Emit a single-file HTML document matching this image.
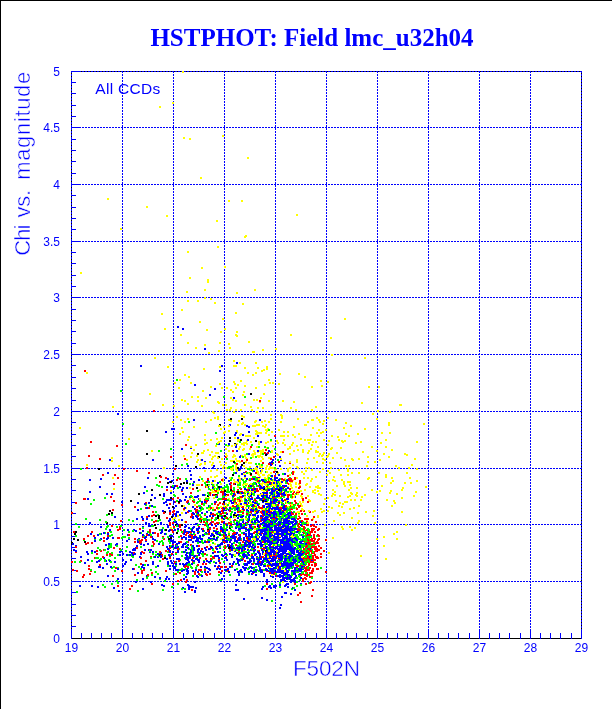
<!DOCTYPE html>
<html><head><meta charset="utf-8"><title>HSTPHOT: Field lmc_u32h04</title>
<style>html,body{margin:0;padding:0;background:#fff;}body{width:612px;height:709px;overflow:hidden;}svg{display:block;}</style>
</head><body><svg width="612" height="709" viewBox="0 0 612 709" shape-rendering="crispEdges"><rect x="0" y="0" width="612" height="1" fill="#000"/><rect x="0" y="0" width="1" height="709" fill="#000"/><rect x="71" y="71" width="511" height="1" fill="#000"/><rect x="71" y="638" width="511" height="1" fill="#000"/><rect x="71" y="71" width="1" height="568" fill="#000"/><rect x="581" y="71" width="1" height="568" fill="#000"/><path d="M71.5 71V638M122.5 71V638M173.5 71V638M224.5 71V638M275.5 71V638M326.5 71V638M377.5 71V638M428.5 71V638M479.5 71V638M530.5 71V638M581.5 71V638" stroke="#0000ff" stroke-width="1" stroke-dasharray="2 1" fill="none"/><path d="M71 581.5H582M71 524.5H582M71 468.5H582M71 411.5H582M71 354.5H582M71 297.5H582M71 241.5H582M71 184.5H582M71 127.5H582M71 71.5H582" stroke="#0000ff" stroke-width="1" stroke-dasharray="2 1" stroke-dashoffset="1" fill="none"/><path d="M71.5 639v-10M81.5 639v-6M91.5 639v-6M101.5 639v-6M111.5 639v-6M122.5 639v-10M132.5 639v-6M142.5 639v-6M152.5 639v-6M162.5 639v-6M173.5 639v-10M183.5 639v-6M193.5 639v-6M203.5 639v-6M214.5 639v-6M224.5 639v-10M234.5 639v-6M244.5 639v-6M254.5 639v-6M265.5 639v-6M275.5 639v-10M285.5 639v-6M295.5 639v-6M305.5 639v-6M316.5 639v-6M326.5 639v-10M336.5 639v-6M346.5 639v-6M356.5 639v-6M367.5 639v-6M377.5 639v-10M387.5 639v-6M397.5 639v-6M407.5 639v-6M418.5 639v-6M428.5 639v-10M438.5 639v-6M448.5 639v-6M458.5 639v-6M469.5 639v-6M479.5 639v-10M489.5 639v-6M499.5 639v-6M509.5 639v-6M520.5 639v-6M530.5 639v-10M540.5 639v-6M550.5 639v-6M560.5 639v-6M571.5 639v-6M581.5 639v-10M71 626.5h5M71 615.5h5M71 604.5h5M71 592.5h5M71 581.5h10M71 570.5h5M71 558.5h5M71 547.5h5M71 536.5h5M71 524.5h10M71 513.5h5M71 502.5h5M71 490.5h5M71 479.5h5M71 468.5h10M71 456.5h5M71 445.5h5M71 434.5h5M71 422.5h5M71 411.5h10M71 400.5h5M71 388.5h5M71 377.5h5M71 365.5h5M71 354.5h10M71 343.5h5M71 331.5h5M71 320.5h5M71 309.5h5M71 297.5h10M71 286.5h5M71 275.5h5M71 263.5h5M71 252.5h5M71 241.5h10M71 229.5h5M71 218.5h5M71 207.5h5M71 195.5h5M71 184.5h10M71 173.5h5M71 161.5h5M71 150.5h5M71 139.5h5M71 127.5h10M71 116.5h5M71 105.5h5M71 93.5h5M71 82.5h5M71 71.5h10" stroke="#0000ff" stroke-width="1" fill="none"/><path fill="#ffff00" d="M394 502h2v2h-2zM233 454h2v2h-2zM267 428h2v2h-2zM406 454h2v2h-2zM239 524h2v2h-2zM252 469h2v2h-2zM255 387h2v2h-2zM323 420h2v2h-2zM318 435h2v2h-2zM317 487h2v2h-2zM378 472h2v2h-2zM262 349h2v2h-2zM277 481h2v2h-2zM288 561h2v2h-2zM401 497h2v2h-2zM342 528h2v2h-2zM230 468h2v2h-2zM245 435h2v2h-2zM344 318h2v2h-2zM333 520h2v2h-2zM196 461h2v2h-2zM276 495h2v2h-2zM241 415h2v2h-2zM316 417h2v2h-2zM217 416h2v2h-2zM225 404h2v2h-2zM301 496h2v2h-2zM245 442h2v2h-2zM320 432h2v2h-2zM300 545h2v2h-2zM293 450h2v2h-2zM268 544h2v2h-2zM242 422h2v2h-2zM227 491h2v2h-2zM275 468h2v2h-2zM176 416h2v2h-2zM318 455h2v2h-2zM272 488h2v2h-2zM317 490h2v2h-2zM107 198h2v2h-2zM272 532h2v2h-2zM282 555h2v2h-2zM237 469h2v2h-2zM235 312h2v2h-2zM250 502h2v2h-2zM320 380h2v2h-2zM313 457h2v2h-2zM254 501h2v2h-2zM280 481h2v2h-2zM314 489h2v2h-2zM184 521h2v2h-2zM214 417h2v2h-2zM298 483h2v2h-2zM344 459h2v2h-2zM240 498h2v2h-2zM217 416h2v2h-2zM184 374h2v2h-2zM372 515h2v2h-2zM228 450h2v2h-2zM86 372h2v2h-2zM242 518h2v2h-2zM302 546h2v2h-2zM183 509h2v2h-2zM204 289h2v2h-2zM259 476h2v2h-2zM307 439h2v2h-2zM306 520h2v2h-2zM248 494h2v2h-2zM306 462h2v2h-2zM341 440h2v2h-2zM217 512h2v2h-2zM349 508h2v2h-2zM223 432h2v2h-2zM259 465h2v2h-2zM212 532h2v2h-2zM227 445h2v2h-2zM236 498h2v2h-2zM295 512h2v2h-2zM385 446h2v2h-2zM328 480h2v2h-2zM310 434h2v2h-2zM318 429h2v2h-2zM263 393h2v2h-2zM347 496h2v2h-2zM388 424h2v2h-2zM254 425h2v2h-2zM245 435h2v2h-2zM256 467h2v2h-2zM280 451h2v2h-2zM217 508h2v2h-2zM228 343h2v2h-2zM385 474h2v2h-2zM338 469h2v2h-2zM282 435h2v2h-2zM258 424h2v2h-2zM273 571h2v2h-2zM281 515h2v2h-2zM235 400h2v2h-2zM269 382h2v2h-2zM339 495h2v2h-2zM338 505h2v2h-2zM274 490h2v2h-2zM409 477h2v2h-2zM247 157h2v2h-2zM273 549h2v2h-2zM244 454h2v2h-2zM266 501h2v2h-2zM225 499h2v2h-2zM199 464h2v2h-2zM239 446h2v2h-2zM257 451h2v2h-2zM236 504h2v2h-2zM267 508h2v2h-2zM213 497h2v2h-2zM236 292h2v2h-2zM242 524h2v2h-2zM248 479h2v2h-2zM231 445h2v2h-2zM266 368h2v2h-2zM303 477h2v2h-2zM311 386h2v2h-2zM239 434h2v2h-2zM326 474h2v2h-2zM240 493h2v2h-2zM206 329h2v2h-2zM256 424h2v2h-2zM253 399h2v2h-2zM231 469h2v2h-2zM257 527h2v2h-2zM225 489h2v2h-2zM285 559h2v2h-2zM295 486h2v2h-2zM237 440h2v2h-2zM265 424h2v2h-2zM224 494h2v2h-2zM263 574h2v2h-2zM244 493h2v2h-2zM208 497h2v2h-2z"/><path fill="#ff0000" d="M305 545h2v2h-2zM245 471h2v2h-2zM290 511h2v2h-2zM243 486h2v2h-2zM313 525h2v2h-2zM274 435h2v2h-2zM320 547h2v2h-2zM261 512h2v2h-2zM303 531h2v2h-2zM278 526h2v2h-2zM298 530h2v2h-2zM129 588h2v2h-2zM269 532h2v2h-2zM218 557h2v2h-2zM209 548h2v2h-2zM316 557h2v2h-2zM286 491h2v2h-2zM232 450h2v2h-2zM251 497h2v2h-2zM303 565h2v2h-2zM310 561h2v2h-2zM221 516h2v2h-2zM210 555h2v2h-2zM262 480h2v2h-2zM313 534h2v2h-2zM230 523h2v2h-2zM196 555h2v2h-2zM312 559h2v2h-2zM308 563h2v2h-2zM305 536h2v2h-2zM267 526h2v2h-2zM301 558h2v2h-2zM277 487h2v2h-2zM236 558h2v2h-2zM248 551h2v2h-2zM202 528h2v2h-2zM287 475h2v2h-2zM312 589h2v2h-2zM318 528h2v2h-2zM218 571h2v2h-2zM222 512h2v2h-2zM252 556h2v2h-2zM224 529h2v2h-2zM197 571h2v2h-2zM252 488h2v2h-2zM276 575h2v2h-2zM136 470h2v2h-2zM281 486h2v2h-2zM88 568h2v2h-2zM275 552h2v2h-2zM292 493h2v2h-2zM216 522h2v2h-2zM180 541h2v2h-2zM134 541h2v2h-2zM221 507h2v2h-2zM271 529h2v2h-2zM194 534h2v2h-2zM310 547h2v2h-2zM293 540h2v2h-2zM299 521h2v2h-2zM277 534h2v2h-2zM142 519h2v2h-2zM316 556h2v2h-2zM309 531h2v2h-2zM115 567h2v2h-2zM263 557h2v2h-2zM264 452h2v2h-2zM205 486h2v2h-2zM266 570h2v2h-2zM290 505h2v2h-2zM252 484h2v2h-2zM257 563h2v2h-2zM133 568h2v2h-2zM303 548h2v2h-2zM312 545h2v2h-2zM302 573h2v2h-2zM309 560h2v2h-2zM113 483h2v2h-2zM237 504h2v2h-2zM279 524h2v2h-2zM94 557h2v2h-2zM222 555h2v2h-2zM304 564h2v2h-2zM243 533h2v2h-2zM151 572h2v2h-2zM296 528h2v2h-2zM307 561h2v2h-2zM298 487h2v2h-2zM287 491h2v2h-2zM282 451h2v2h-2zM292 538h2v2h-2zM221 517h2v2h-2z"/><path fill="#00ff00" d="M272 495h2v2h-2zM302 550h2v2h-2zM132 556h2v2h-2zM290 553h2v2h-2zM241 532h2v2h-2zM302 544h2v2h-2zM286 539h2v2h-2zM275 541h2v2h-2zM267 525h2v2h-2zM246 514h2v2h-2zM265 535h2v2h-2zM198 510h2v2h-2zM233 502h2v2h-2zM262 453h2v2h-2zM299 521h2v2h-2zM298 532h2v2h-2zM128 531h2v2h-2zM288 578h2v2h-2zM295 493h2v2h-2zM149 532h2v2h-2zM232 492h2v2h-2zM188 562h2v2h-2zM252 470h2v2h-2zM164 555h2v2h-2zM202 553h2v2h-2zM177 477h2v2h-2zM299 560h2v2h-2zM291 588h2v2h-2zM285 516h2v2h-2zM273 514h2v2h-2zM149 505h2v2h-2zM207 486h2v2h-2zM265 498h2v2h-2zM138 566h2v2h-2zM283 515h2v2h-2zM208 506h2v2h-2zM135 564h2v2h-2zM268 554h2v2h-2zM263 560h2v2h-2zM266 560h2v2h-2zM187 556h2v2h-2zM288 559h2v2h-2zM304 527h2v2h-2zM236 549h2v2h-2zM283 518h2v2h-2zM189 564h2v2h-2zM281 516h2v2h-2zM235 526h2v2h-2zM263 549h2v2h-2zM268 508h2v2h-2zM196 556h2v2h-2zM313 541h2v2h-2zM304 557h2v2h-2zM158 450h2v2h-2zM310 557h2v2h-2zM109 535h2v2h-2zM279 586h2v2h-2zM299 565h2v2h-2zM300 563h2v2h-2zM308 582h2v2h-2zM212 548h2v2h-2zM296 545h2v2h-2zM225 516h2v2h-2zM122 536h2v2h-2zM253 562h2v2h-2zM258 570h2v2h-2zM280 548h2v2h-2zM307 566h2v2h-2zM304 553h2v2h-2zM260 530h2v2h-2zM307 560h2v2h-2zM233 547h2v2h-2zM303 535h2v2h-2zM177 487h2v2h-2zM102 584h2v2h-2zM241 524h2v2h-2zM304 551h2v2h-2zM244 486h2v2h-2zM192 575h2v2h-2zM171 586h2v2h-2zM158 485h2v2h-2zM282 517h2v2h-2zM239 560h2v2h-2zM304 531h2v2h-2zM247 519h2v2h-2zM298 553h2v2h-2zM225 486h2v2h-2zM173 494h2v2h-2zM192 483h2v2h-2zM227 467h2v2h-2zM299 543h2v2h-2zM292 526h2v2h-2zM277 459h2v2h-2zM307 545h2v2h-2zM264 523h2v2h-2zM259 483h2v2h-2zM212 509h2v2h-2zM296 558h2v2h-2zM301 555h2v2h-2zM254 476h2v2h-2zM251 502h2v2h-2zM285 528h2v2h-2zM184 588h2v2h-2zM297 544h2v2h-2zM304 562h2v2h-2zM296 569h2v2h-2zM114 557h2v2h-2zM264 585h2v2h-2zM283 550h2v2h-2zM306 543h2v2h-2zM297 571h2v2h-2zM215 432h2v2h-2zM289 513h2v2h-2zM267 564h2v2h-2zM296 534h2v2h-2zM104 559h2v2h-2zM293 559h2v2h-2zM302 523h2v2h-2zM247 513h2v2h-2zM191 567h2v2h-2zM146 577h2v2h-2zM236 526h2v2h-2zM305 552h2v2h-2zM294 539h2v2h-2zM293 549h2v2h-2zM299 520h2v2h-2zM106 526h2v2h-2zM173 547h2v2h-2zM244 545h2v2h-2zM213 537h2v2h-2zM218 574h2v2h-2zM260 547h2v2h-2zM109 555h2v2h-2zM209 508h2v2h-2zM228 466h2v2h-2z"/><path fill="#0000ff" d="M291 532h2v2h-2zM138 538h2v2h-2zM295 540h2v2h-2zM196 496h2v2h-2zM219 534h2v2h-2zM201 528h2v2h-2zM270 505h2v2h-2zM295 521h2v2h-2zM188 561h2v2h-2zM275 500h2v2h-2zM283 529h2v2h-2zM198 548h2v2h-2zM265 529h2v2h-2zM264 565h2v2h-2zM280 501h2v2h-2zM203 530h2v2h-2zM265 569h2v2h-2zM263 530h2v2h-2zM227 568h2v2h-2zM282 542h2v2h-2zM173 507h2v2h-2zM292 529h2v2h-2zM253 470h2v2h-2zM170 492h2v2h-2zM251 563h2v2h-2zM283 565h2v2h-2zM235 472h2v2h-2zM284 531h2v2h-2zM265 539h2v2h-2zM254 549h2v2h-2zM277 535h2v2h-2zM288 561h2v2h-2zM189 535h2v2h-2zM264 508h2v2h-2zM292 570h2v2h-2zM207 519h2v2h-2zM256 556h2v2h-2zM293 553h2v2h-2zM223 530h2v2h-2zM268 474h2v2h-2zM274 559h2v2h-2zM245 544h2v2h-2zM280 530h2v2h-2zM247 541h2v2h-2zM157 553h2v2h-2zM184 564h2v2h-2zM263 493h2v2h-2zM116 543h2v2h-2zM269 571h2v2h-2zM269 496h2v2h-2zM169 529h2v2h-2zM275 567h2v2h-2zM267 524h2v2h-2zM272 530h2v2h-2zM277 565h2v2h-2zM233 502h2v2h-2zM292 540h2v2h-2zM270 502h2v2h-2zM249 561h2v2h-2zM244 488h2v2h-2zM222 518h2v2h-2zM290 545h2v2h-2zM159 529h2v2h-2zM151 536h2v2h-2zM272 459h2v2h-2zM246 537h2v2h-2zM175 569h2v2h-2zM196 523h2v2h-2zM285 569h2v2h-2zM245 535h2v2h-2zM291 534h2v2h-2zM291 545h2v2h-2zM248 536h2v2h-2zM280 533h2v2h-2zM271 531h2v2h-2zM267 557h2v2h-2zM274 521h2v2h-2zM276 538h2v2h-2zM197 528h2v2h-2zM236 508h2v2h-2zM274 554h2v2h-2zM256 533h2v2h-2zM277 567h2v2h-2zM282 581h2v2h-2zM272 549h2v2h-2zM274 479h2v2h-2zM266 537h2v2h-2zM268 513h2v2h-2zM263 575h2v2h-2zM115 544h2v2h-2zM274 586h2v2h-2zM297 530h2v2h-2zM289 547h2v2h-2zM270 521h2v2h-2zM146 575h2v2h-2zM191 554h2v2h-2zM231 537h2v2h-2zM296 551h2v2h-2zM287 479h2v2h-2zM170 538h2v2h-2zM284 513h2v2h-2zM273 536h2v2h-2zM265 539h2v2h-2zM281 492h2v2h-2zM286 573h2v2h-2zM190 474h2v2h-2zM285 539h2v2h-2zM284 528h2v2h-2zM285 528h2v2h-2zM294 547h2v2h-2zM251 547h2v2h-2zM285 485h2v2h-2zM253 546h2v2h-2zM200 570h2v2h-2zM275 519h2v2h-2zM285 538h2v2h-2zM296 565h2v2h-2zM280 544h2v2h-2zM206 560h2v2h-2zM150 581h2v2h-2zM285 506h2v2h-2zM264 538h2v2h-2zM238 537h2v2h-2zM269 556h2v2h-2zM292 558h2v2h-2zM293 549h2v2h-2zM253 540h2v2h-2zM242 525h2v2h-2zM280 511h2v2h-2zM198 559h2v2h-2zM275 491h2v2h-2zM283 573h2v2h-2zM224 531h2v2h-2zM238 481h2v2h-2zM184 526h2v2h-2zM262 499h2v2h-2zM271 549h2v2h-2zM265 516h2v2h-2zM279 569h2v2h-2zM278 530h2v2h-2zM141 516h2v2h-2zM177 525h2v2h-2zM282 545h2v2h-2zM280 509h2v2h-2zM277 560h2v2h-2zM295 543h2v2h-2zM292 529h2v2h-2zM181 546h2v2h-2zM266 561h2v2h-2zM282 527h2v2h-2zM262 551h2v2h-2zM190 539h2v2h-2zM168 578h2v2h-2zM291 567h2v2h-2zM192 586h2v2h-2zM214 555h2v2h-2zM271 542h2v2h-2zM247 552h2v2h-2zM287 544h2v2h-2zM190 447h2v2h-2zM222 531h2v2h-2zM266 579h2v2h-2zM288 569h2v2h-2zM294 519h2v2h-2zM137 539h2v2h-2zM283 492h2v2h-2zM282 528h2v2h-2zM168 507h2v2h-2zM276 504h2v2h-2zM242 527h2v2h-2zM157 565h2v2h-2zM237 510h2v2h-2zM277 500h2v2h-2zM300 565h2v2h-2zM267 534h2v2h-2zM223 507h2v2h-2zM277 516h2v2h-2zM266 546h2v2h-2zM267 536h2v2h-2zM293 540h2v2h-2zM237 546h2v2h-2zM263 517h2v2h-2zM302 543h2v2h-2zM181 570h2v2h-2zM250 541h2v2h-2zM237 437h2v2h-2zM249 537h2v2h-2zM288 564h2v2h-2zM263 519h2v2h-2zM255 534h2v2h-2zM275 519h2v2h-2zM267 503h2v2h-2zM273 585h2v2h-2zM251 505h2v2h-2zM173 521h2v2h-2zM284 559h2v2h-2zM290 564h2v2h-2zM253 509h2v2h-2zM279 507h2v2h-2zM248 535h2v2h-2zM271 536h2v2h-2zM273 485h2v2h-2zM296 542h2v2h-2zM169 519h2v2h-2zM175 515h2v2h-2zM196 513h2v2h-2zM268 570h2v2h-2zM192 527h2v2h-2zM260 499h2v2h-2zM189 470h2v2h-2zM229 563h2v2h-2zM119 554h2v2h-2zM264 520h2v2h-2zM187 567h2v2h-2zM256 522h2v2h-2zM275 523h2v2h-2zM267 517h2v2h-2zM296 555h2v2h-2zM274 529h2v2h-2zM286 539h2v2h-2zM289 488h2v2h-2zM271 497h2v2h-2zM273 499h2v2h-2zM281 535h2v2h-2zM303 566h2v2h-2zM283 549h2v2h-2zM271 527h2v2h-2zM213 538h2v2h-2zM271 547h2v2h-2zM163 585h2v2h-2zM158 543h2v2h-2zM99 486h2v2h-2zM261 515h2v2h-2zM273 552h2v2h-2zM246 555h2v2h-2zM297 558h2v2h-2zM109 459h2v2h-2zM197 518h2v2h-2zM204 571h2v2h-2zM210 522h2v2h-2zM129 551h2v2h-2zM287 543h2v2h-2zM287 566h2v2h-2zM282 579h2v2h-2zM263 514h2v2h-2zM294 580h2v2h-2zM270 575h2v2h-2z"/><path fill="#000000" d="M130 500h2v2h-2zM271 489h2v2h-2zM74 533h2v2h-2zM171 516h2v2h-2zM236 467h2v2h-2zM155 527h2v2h-2zM170 497h2v2h-2zM106 522h2v2h-2zM217 517h2v2h-2z"/><path fill="#ffff00" d="M209 528h2v2h-2zM284 560h2v2h-2zM283 435h2v2h-2zM376 538h2v2h-2zM255 420h2v2h-2zM270 472h2v2h-2zM275 480h2v2h-2zM296 491h2v2h-2zM214 476h2v2h-2zM166 215h2v2h-2zM261 469h2v2h-2zM246 458h2v2h-2zM212 411h2v2h-2zM252 425h2v2h-2zM210 540h2v2h-2zM233 482h2v2h-2zM374 461h2v2h-2zM356 495h2v2h-2zM217 401h2v2h-2zM389 411h2v2h-2zM267 505h2v2h-2zM220 538h2v2h-2zM226 409h2v2h-2zM230 407h2v2h-2zM205 481h2v2h-2zM225 506h2v2h-2zM367 478h2v2h-2zM304 424h2v2h-2zM250 483h2v2h-2zM396 493h2v2h-2zM284 444h2v2h-2zM267 441h2v2h-2zM378 386h2v2h-2zM220 464h2v2h-2zM367 461h2v2h-2zM113 488h2v2h-2zM246 538h2v2h-2zM350 492h2v2h-2zM191 396h2v2h-2zM252 545h2v2h-2zM190 446h2v2h-2zM247 472h2v2h-2zM269 481h2v2h-2zM212 456h2v2h-2zM259 466h2v2h-2zM183 505h2v2h-2zM272 483h2v2h-2zM377 410h2v2h-2zM270 491h2v2h-2zM261 421h2v2h-2zM344 501h2v2h-2zM326 456h2v2h-2zM285 574h2v2h-2zM294 494h2v2h-2zM266 523h2v2h-2zM282 480h2v2h-2zM289 447h2v2h-2zM259 464h2v2h-2zM236 481h2v2h-2zM300 495h2v2h-2zM389 432h2v2h-2zM320 494h2v2h-2zM266 508h2v2h-2zM307 452h2v2h-2zM230 460h2v2h-2zM277 473h2v2h-2zM217 456h2v2h-2zM296 466h2v2h-2zM210 492h2v2h-2zM364 428h2v2h-2zM239 505h2v2h-2zM181 309h2v2h-2zM276 453h2v2h-2zM250 441h2v2h-2zM256 465h2v2h-2zM261 509h2v2h-2zM327 455h2v2h-2zM349 495h2v2h-2zM285 553h2v2h-2zM280 414h2v2h-2zM259 401h2v2h-2zM289 453h2v2h-2zM236 460h2v2h-2zM218 487h2v2h-2zM284 462h2v2h-2zM231 494h2v2h-2zM291 481h2v2h-2zM392 480h2v2h-2zM287 494h2v2h-2zM261 370h2v2h-2zM250 504h2v2h-2zM364 357h2v2h-2zM252 541h2v2h-2zM248 511h2v2h-2zM221 387h2v2h-2zM271 476h2v2h-2zM187 439h2v2h-2zM196 455h2v2h-2zM260 471h2v2h-2zM273 555h2v2h-2zM222 498h2v2h-2zM232 391h2v2h-2zM376 450h2v2h-2zM268 531h2v2h-2zM197 459h2v2h-2zM185 507h2v2h-2zM293 581h2v2h-2zM237 384h2v2h-2zM347 474h2v2h-2zM172 421h2v2h-2zM291 526h2v2h-2z"/><path fill="#ff0000" d="M226 536h2v2h-2zM205 502h2v2h-2zM280 493h2v2h-2zM313 546h2v2h-2zM309 557h2v2h-2zM252 489h2v2h-2zM314 559h2v2h-2zM245 527h2v2h-2zM222 529h2v2h-2zM266 481h2v2h-2zM306 546h2v2h-2zM305 534h2v2h-2zM261 569h2v2h-2zM116 445h2v2h-2zM241 506h2v2h-2zM251 485h2v2h-2zM201 518h2v2h-2zM204 513h2v2h-2zM307 568h2v2h-2zM199 518h2v2h-2zM198 545h2v2h-2zM289 462h2v2h-2zM266 486h2v2h-2zM307 540h2v2h-2zM90 570h2v2h-2zM206 521h2v2h-2zM306 544h2v2h-2zM289 511h2v2h-2zM268 538h2v2h-2zM222 492h2v2h-2zM278 500h2v2h-2zM148 507h2v2h-2zM313 528h2v2h-2zM267 528h2v2h-2zM198 526h2v2h-2zM314 538h2v2h-2zM224 537h2v2h-2zM232 505h2v2h-2zM302 531h2v2h-2zM209 573h2v2h-2zM273 487h2v2h-2zM222 509h2v2h-2zM293 491h2v2h-2zM178 541h2v2h-2zM308 535h2v2h-2zM170 486h2v2h-2zM315 564h2v2h-2zM254 546h2v2h-2zM152 541h2v2h-2zM266 517h2v2h-2zM220 566h2v2h-2zM262 462h2v2h-2zM238 492h2v2h-2zM264 554h2v2h-2zM303 564h2v2h-2zM293 516h2v2h-2zM176 479h2v2h-2zM295 507h2v2h-2zM180 535h2v2h-2zM306 539h2v2h-2zM71 512h2v2h-2zM311 559h2v2h-2zM311 576h2v2h-2zM249 479h2v2h-2zM293 505h2v2h-2zM252 523h2v2h-2zM235 544h2v2h-2zM250 525h2v2h-2zM250 529h2v2h-2zM181 490h2v2h-2zM222 498h2v2h-2zM143 569h2v2h-2zM117 585h2v2h-2zM311 595h2v2h-2zM305 554h2v2h-2zM238 514h2v2h-2zM297 537h2v2h-2zM131 585h2v2h-2zM308 556h2v2h-2zM157 535h2v2h-2zM280 548h2v2h-2zM294 583h2v2h-2zM186 579h2v2h-2zM238 525h2v2h-2zM206 541h2v2h-2zM303 553h2v2h-2zM302 557h2v2h-2zM222 503h2v2h-2zM237 489h2v2h-2zM212 486h2v2h-2zM87 535h2v2h-2zM277 482h2v2h-2zM260 541h2v2h-2zM242 506h2v2h-2zM302 564h2v2h-2zM292 493h2v2h-2zM306 539h2v2h-2zM235 536h2v2h-2zM223 515h2v2h-2zM270 482h2v2h-2zM213 527h2v2h-2zM307 542h2v2h-2zM317 542h2v2h-2zM199 557h2v2h-2zM225 556h2v2h-2zM314 548h2v2h-2zM252 563h2v2h-2zM306 572h2v2h-2zM179 526h2v2h-2zM309 561h2v2h-2zM317 535h2v2h-2zM281 512h2v2h-2zM80 560h2v2h-2zM109 553h2v2h-2zM278 510h2v2h-2zM314 554h2v2h-2zM191 589h2v2h-2zM276 483h2v2h-2zM305 544h2v2h-2zM246 504h2v2h-2zM305 561h2v2h-2zM241 491h2v2h-2zM298 526h2v2h-2zM243 492h2v2h-2z"/><path fill="#00ff00" d="M162 537h2v2h-2zM299 554h2v2h-2zM167 551h2v2h-2zM289 511h2v2h-2zM251 534h2v2h-2zM293 505h2v2h-2zM303 558h2v2h-2zM167 565h2v2h-2zM159 553h2v2h-2zM267 553h2v2h-2zM262 524h2v2h-2zM280 507h2v2h-2zM199 574h2v2h-2zM234 509h2v2h-2zM261 540h2v2h-2zM292 490h2v2h-2zM304 540h2v2h-2zM261 545h2v2h-2zM289 541h2v2h-2zM237 490h2v2h-2zM284 511h2v2h-2zM159 578h2v2h-2zM300 552h2v2h-2zM177 583h2v2h-2zM133 529h2v2h-2zM253 527h2v2h-2zM311 577h2v2h-2zM285 488h2v2h-2zM293 547h2v2h-2zM302 552h2v2h-2zM297 530h2v2h-2zM230 538h2v2h-2zM300 542h2v2h-2zM261 523h2v2h-2zM216 488h2v2h-2zM221 558h2v2h-2zM91 552h2v2h-2zM185 478h2v2h-2zM204 518h2v2h-2zM308 554h2v2h-2zM199 510h2v2h-2zM238 515h2v2h-2zM279 507h2v2h-2zM279 582h2v2h-2zM265 510h2v2h-2zM223 396h2v2h-2zM229 553h2v2h-2zM285 502h2v2h-2zM161 486h2v2h-2zM297 561h2v2h-2zM269 549h2v2h-2zM213 485h2v2h-2zM239 496h2v2h-2zM181 464h2v2h-2zM271 484h2v2h-2zM120 390h2v2h-2zM290 538h2v2h-2zM191 496h2v2h-2zM99 549h2v2h-2zM265 541h2v2h-2zM274 515h2v2h-2zM275 573h2v2h-2zM145 504h2v2h-2zM278 516h2v2h-2zM250 457h2v2h-2zM272 523h2v2h-2zM300 521h2v2h-2zM233 495h2v2h-2zM201 540h2v2h-2zM216 537h2v2h-2zM230 521h2v2h-2zM269 535h2v2h-2zM264 479h2v2h-2zM264 557h2v2h-2zM314 562h2v2h-2zM244 492h2v2h-2zM183 574h2v2h-2zM305 570h2v2h-2zM280 516h2v2h-2zM291 521h2v2h-2zM265 508h2v2h-2zM211 558h2v2h-2zM286 524h2v2h-2zM198 537h2v2h-2zM215 496h2v2h-2zM199 500h2v2h-2zM99 559h2v2h-2zM191 553h2v2h-2zM106 514h2v2h-2zM305 538h2v2h-2zM291 539h2v2h-2zM151 519h2v2h-2zM280 490h2v2h-2zM224 552h2v2h-2zM295 514h2v2h-2zM249 558h2v2h-2zM216 443h2v2h-2zM301 556h2v2h-2zM219 532h2v2h-2zM232 490h2v2h-2zM170 534h2v2h-2zM229 550h2v2h-2zM238 497h2v2h-2zM295 507h2v2h-2zM301 562h2v2h-2zM231 511h2v2h-2zM301 555h2v2h-2zM297 548h2v2h-2zM304 535h2v2h-2zM250 513h2v2h-2zM110 543h2v2h-2zM298 532h2v2h-2zM271 505h2v2h-2zM247 557h2v2h-2zM299 576h2v2h-2zM320 567h2v2h-2zM263 488h2v2h-2zM304 531h2v2h-2zM200 509h2v2h-2zM250 540h2v2h-2zM75 535h2v2h-2zM241 525h2v2h-2zM150 534h2v2h-2zM310 554h2v2h-2z"/><path fill="#0000ff" d="M277 548h2v2h-2zM286 516h2v2h-2zM221 534h2v2h-2zM273 559h2v2h-2zM261 485h2v2h-2zM288 542h2v2h-2zM250 549h2v2h-2zM285 567h2v2h-2zM152 563h2v2h-2zM161 531h2v2h-2zM187 502h2v2h-2zM176 523h2v2h-2zM217 567h2v2h-2zM188 527h2v2h-2zM165 578h2v2h-2zM216 531h2v2h-2zM249 566h2v2h-2zM261 588h2v2h-2zM281 498h2v2h-2zM145 540h2v2h-2zM186 531h2v2h-2zM265 543h2v2h-2zM269 537h2v2h-2zM287 540h2v2h-2zM269 543h2v2h-2zM284 521h2v2h-2zM259 562h2v2h-2zM266 581h2v2h-2zM286 535h2v2h-2zM145 522h2v2h-2zM273 559h2v2h-2zM220 543h2v2h-2zM262 553h2v2h-2zM271 521h2v2h-2zM272 487h2v2h-2zM282 515h2v2h-2zM291 537h2v2h-2zM269 502h2v2h-2zM278 526h2v2h-2zM274 513h2v2h-2zM269 527h2v2h-2zM272 489h2v2h-2zM181 519h2v2h-2zM226 559h2v2h-2zM280 506h2v2h-2zM168 548h2v2h-2zM147 564h2v2h-2zM296 550h2v2h-2zM254 526h2v2h-2zM291 546h2v2h-2zM275 514h2v2h-2zM265 503h2v2h-2zM177 511h2v2h-2zM293 533h2v2h-2zM266 520h2v2h-2zM289 543h2v2h-2zM290 550h2v2h-2zM281 526h2v2h-2zM291 522h2v2h-2zM192 541h2v2h-2zM182 544h2v2h-2zM248 542h2v2h-2zM276 531h2v2h-2zM300 558h2v2h-2zM298 574h2v2h-2zM237 571h2v2h-2zM135 581h2v2h-2zM264 489h2v2h-2zM259 486h2v2h-2zM265 527h2v2h-2zM261 529h2v2h-2zM253 567h2v2h-2zM253 532h2v2h-2zM283 542h2v2h-2zM100 533h2v2h-2zM285 517h2v2h-2zM281 533h2v2h-2zM278 527h2v2h-2zM275 533h2v2h-2zM262 528h2v2h-2zM257 435h2v2h-2zM287 521h2v2h-2zM288 545h2v2h-2zM194 508h2v2h-2zM303 567h2v2h-2zM291 549h2v2h-2zM280 521h2v2h-2zM287 543h2v2h-2zM187 570h2v2h-2zM257 478h2v2h-2zM294 577h2v2h-2zM272 545h2v2h-2zM279 560h2v2h-2zM246 483h2v2h-2zM298 568h2v2h-2zM277 506h2v2h-2zM269 564h2v2h-2zM166 546h2v2h-2zM277 569h2v2h-2zM210 546h2v2h-2zM179 563h2v2h-2zM293 551h2v2h-2zM268 561h2v2h-2zM288 559h2v2h-2zM281 559h2v2h-2zM296 566h2v2h-2zM186 555h2v2h-2zM289 544h2v2h-2zM189 552h2v2h-2zM280 543h2v2h-2zM286 541h2v2h-2zM299 573h2v2h-2zM296 550h2v2h-2zM274 518h2v2h-2zM196 511h2v2h-2zM241 527h2v2h-2zM133 529h2v2h-2zM273 531h2v2h-2zM239 559h2v2h-2zM260 570h2v2h-2zM275 501h2v2h-2zM127 534h2v2h-2zM171 480h2v2h-2zM283 547h2v2h-2zM215 562h2v2h-2zM248 567h2v2h-2zM254 482h2v2h-2zM287 538h2v2h-2zM207 499h2v2h-2zM249 524h2v2h-2zM291 518h2v2h-2zM242 521h2v2h-2zM265 546h2v2h-2zM112 537h2v2h-2zM142 564h2v2h-2zM268 549h2v2h-2zM87 559h2v2h-2zM286 534h2v2h-2zM212 538h2v2h-2zM272 523h2v2h-2zM283 579h2v2h-2zM291 538h2v2h-2zM279 456h2v2h-2zM124 563h2v2h-2zM269 536h2v2h-2zM259 543h2v2h-2zM252 536h2v2h-2zM292 545h2v2h-2zM197 549h2v2h-2zM270 532h2v2h-2zM238 554h2v2h-2zM273 523h2v2h-2zM294 517h2v2h-2zM284 522h2v2h-2zM280 522h2v2h-2zM289 554h2v2h-2zM186 570h2v2h-2zM192 517h2v2h-2zM286 565h2v2h-2zM196 539h2v2h-2zM240 455h2v2h-2zM282 531h2v2h-2zM283 571h2v2h-2zM277 516h2v2h-2zM185 496h2v2h-2zM173 518h2v2h-2zM134 549h2v2h-2zM282 547h2v2h-2zM261 538h2v2h-2zM274 479h2v2h-2zM239 542h2v2h-2zM302 531h2v2h-2zM192 484h2v2h-2zM279 485h2v2h-2zM283 563h2v2h-2zM171 486h2v2h-2zM284 535h2v2h-2zM226 540h2v2h-2zM284 571h2v2h-2zM167 525h2v2h-2zM275 504h2v2h-2zM232 563h2v2h-2zM292 563h2v2h-2zM272 497h2v2h-2zM263 521h2v2h-2zM262 516h2v2h-2zM229 541h2v2h-2zM281 522h2v2h-2zM282 571h2v2h-2zM286 520h2v2h-2zM279 576h2v2h-2zM198 554h2v2h-2zM268 533h2v2h-2zM260 470h2v2h-2zM291 542h2v2h-2zM251 567h2v2h-2zM209 515h2v2h-2zM291 536h2v2h-2zM262 536h2v2h-2zM270 497h2v2h-2zM97 586h2v2h-2zM170 554h2v2h-2zM230 548h2v2h-2zM290 550h2v2h-2zM284 529h2v2h-2zM285 546h2v2h-2zM286 514h2v2h-2zM182 493h2v2h-2zM304 530h2v2h-2zM171 428h2v2h-2zM298 570h2v2h-2zM128 538h2v2h-2zM175 561h2v2h-2zM264 539h2v2h-2zM276 540h2v2h-2zM294 542h2v2h-2zM221 365h2v2h-2zM252 549h2v2h-2zM157 556h2v2h-2zM281 546h2v2h-2zM274 536h2v2h-2zM277 482h2v2h-2zM289 539h2v2h-2zM293 557h2v2h-2zM248 554h2v2h-2zM274 532h2v2h-2zM148 502h2v2h-2zM229 566h2v2h-2zM192 536h2v2h-2zM280 548h2v2h-2zM264 547h2v2h-2zM287 512h2v2h-2zM289 575h2v2h-2zM241 552h2v2h-2zM236 579h2v2h-2zM284 491h2v2h-2zM193 419h2v2h-2zM266 559h2v2h-2zM263 534h2v2h-2zM126 540h2v2h-2zM291 529h2v2h-2zM279 516h2v2h-2zM277 488h2v2h-2zM245 541h2v2h-2zM144 537h2v2h-2zM260 499h2v2h-2zM272 544h2v2h-2zM298 554h2v2h-2zM276 480h2v2h-2zM177 326h2v2h-2zM298 561h2v2h-2zM236 362h2v2h-2z"/><path fill="#000000" d="M226 494h2v2h-2zM229 546h2v2h-2zM170 537h2v2h-2zM111 512h2v2h-2zM183 482h2v2h-2zM175 524h2v2h-2zM219 424h2v2h-2zM234 483h2v2h-2zM228 547h2v2h-2zM176 532h2v2h-2z"/><path fill="#ffff00" d="M235 458h2v2h-2zM249 520h2v2h-2zM292 538h2v2h-2zM312 491h2v2h-2zM278 489h2v2h-2zM287 486h2v2h-2zM266 560h2v2h-2zM214 455h2v2h-2zM243 503h2v2h-2zM283 526h2v2h-2zM376 418h2v2h-2zM231 506h2v2h-2zM239 461h2v2h-2zM411 464h2v2h-2zM254 546h2v2h-2zM252 453h2v2h-2zM287 542h2v2h-2zM293 401h2v2h-2zM256 433h2v2h-2zM234 383h2v2h-2zM274 508h2v2h-2zM285 517h2v2h-2zM191 452h2v2h-2zM237 482h2v2h-2zM318 493h2v2h-2zM215 491h2v2h-2zM389 492h2v2h-2zM286 491h2v2h-2zM262 425h2v2h-2zM234 434h2v2h-2zM204 297h2v2h-2zM241 478h2v2h-2zM243 509h2v2h-2zM220 483h2v2h-2zM390 482h2v2h-2zM324 459h2v2h-2zM204 463h2v2h-2zM336 452h2v2h-2zM328 552h2v2h-2zM278 383h2v2h-2zM354 499h2v2h-2zM263 537h2v2h-2zM254 528h2v2h-2zM391 505h2v2h-2zM281 491h2v2h-2zM386 499h2v2h-2zM328 440h2v2h-2zM271 565h2v2h-2zM161 313h2v2h-2zM236 443h2v2h-2zM220 331h2v2h-2zM257 496h2v2h-2zM230 420h2v2h-2zM274 536h2v2h-2zM212 507h2v2h-2zM279 536h2v2h-2zM401 511h2v2h-2zM323 452h2v2h-2zM295 409h2v2h-2zM365 511h2v2h-2zM201 405h2v2h-2zM327 444h2v2h-2zM306 515h2v2h-2zM292 490h2v2h-2zM259 494h2v2h-2zM252 456h2v2h-2zM262 474h2v2h-2zM268 524h2v2h-2zM243 448h2v2h-2zM270 414h2v2h-2zM294 436h2v2h-2zM225 462h2v2h-2zM234 437h2v2h-2zM244 504h2v2h-2zM322 462h2v2h-2zM301 497h2v2h-2zM305 467h2v2h-2zM198 484h2v2h-2zM308 499h2v2h-2zM193 426h2v2h-2zM189 487h2v2h-2zM342 503h2v2h-2zM351 493h2v2h-2zM218 519h2v2h-2zM347 481h2v2h-2zM288 514h2v2h-2zM286 500h2v2h-2zM385 476h2v2h-2zM267 538h2v2h-2zM266 522h2v2h-2zM288 483h2v2h-2zM241 509h2v2h-2zM250 486h2v2h-2zM263 369h2v2h-2zM269 466h2v2h-2zM396 538h2v2h-2zM275 485h2v2h-2zM244 503h2v2h-2zM242 473h2v2h-2zM266 447h2v2h-2zM272 481h2v2h-2zM237 498h2v2h-2zM271 431h2v2h-2zM319 487h2v2h-2zM164 328h2v2h-2zM245 457h2v2h-2zM250 509h2v2h-2zM348 489h2v2h-2zM270 457h2v2h-2zM250 555h2v2h-2zM216 220h2v2h-2zM187 342h2v2h-2zM310 480h2v2h-2zM291 495h2v2h-2zM241 517h2v2h-2zM267 518h2v2h-2zM210 476h2v2h-2zM271 450h2v2h-2zM293 544h2v2h-2zM400 404h2v2h-2zM189 498h2v2h-2zM331 495h2v2h-2zM272 501h2v2h-2zM199 321h2v2h-2zM247 497h2v2h-2zM211 458h2v2h-2zM270 495h2v2h-2zM303 473h2v2h-2zM222 478h2v2h-2zM307 458h2v2h-2zM358 505h2v2h-2zM230 484h2v2h-2zM221 437h2v2h-2zM240 523h2v2h-2zM255 430h2v2h-2zM240 548h2v2h-2zM281 502h2v2h-2zM265 565h2v2h-2z"/><path fill="#ff0000" d="M211 521h2v2h-2zM268 519h2v2h-2zM280 492h2v2h-2zM205 573h2v2h-2zM314 547h2v2h-2zM313 552h2v2h-2zM187 500h2v2h-2zM307 533h2v2h-2zM262 480h2v2h-2zM307 540h2v2h-2zM280 509h2v2h-2zM112 575h2v2h-2zM271 490h2v2h-2zM238 499h2v2h-2zM294 478h2v2h-2zM306 559h2v2h-2zM150 556h2v2h-2zM259 400h2v2h-2zM312 557h2v2h-2zM269 572h2v2h-2zM99 458h2v2h-2zM224 498h2v2h-2zM133 552h2v2h-2zM270 511h2v2h-2zM297 511h2v2h-2zM318 535h2v2h-2zM308 558h2v2h-2zM299 517h2v2h-2zM91 542h2v2h-2zM201 503h2v2h-2zM298 491h2v2h-2zM197 513h2v2h-2zM205 567h2v2h-2zM306 518h2v2h-2zM119 548h2v2h-2zM298 515h2v2h-2zM187 566h2v2h-2zM222 510h2v2h-2zM192 561h2v2h-2zM314 543h2v2h-2zM174 501h2v2h-2zM308 541h2v2h-2zM254 570h2v2h-2zM179 572h2v2h-2zM272 559h2v2h-2zM315 546h2v2h-2zM307 555h2v2h-2zM267 488h2v2h-2zM207 484h2v2h-2zM253 490h2v2h-2zM270 458h2v2h-2zM200 506h2v2h-2zM293 504h2v2h-2zM316 550h2v2h-2zM263 539h2v2h-2zM195 511h2v2h-2zM249 502h2v2h-2zM206 574h2v2h-2zM317 529h2v2h-2zM271 525h2v2h-2zM314 531h2v2h-2zM261 532h2v2h-2zM320 556h2v2h-2zM234 506h2v2h-2zM103 549h2v2h-2zM303 560h2v2h-2zM311 572h2v2h-2zM221 521h2v2h-2zM142 536h2v2h-2zM296 565h2v2h-2zM308 559h2v2h-2zM201 512h2v2h-2zM200 506h2v2h-2zM253 541h2v2h-2zM309 558h2v2h-2zM200 521h2v2h-2zM266 492h2v2h-2zM220 530h2v2h-2zM165 550h2v2h-2zM189 557h2v2h-2zM161 554h2v2h-2zM210 513h2v2h-2zM241 511h2v2h-2zM187 511h2v2h-2zM149 529h2v2h-2zM301 493h2v2h-2zM246 489h2v2h-2zM256 488h2v2h-2zM288 513h2v2h-2zM276 486h2v2h-2zM313 551h2v2h-2zM312 524h2v2h-2zM263 520h2v2h-2zM242 513h2v2h-2zM214 514h2v2h-2zM296 492h2v2h-2zM250 474h2v2h-2zM215 501h2v2h-2z"/><path fill="#00ff00" d="M257 550h2v2h-2zM307 536h2v2h-2zM193 562h2v2h-2zM208 488h2v2h-2zM188 503h2v2h-2zM250 469h2v2h-2zM297 536h2v2h-2zM297 545h2v2h-2zM301 564h2v2h-2zM165 533h2v2h-2zM211 534h2v2h-2zM277 505h2v2h-2zM263 538h2v2h-2zM305 543h2v2h-2zM284 489h2v2h-2zM250 504h2v2h-2zM249 520h2v2h-2zM187 552h2v2h-2zM247 514h2v2h-2zM147 575h2v2h-2zM302 579h2v2h-2zM222 494h2v2h-2zM278 518h2v2h-2zM272 482h2v2h-2zM274 556h2v2h-2zM275 501h2v2h-2zM279 509h2v2h-2zM311 549h2v2h-2zM158 555h2v2h-2zM275 485h2v2h-2zM269 483h2v2h-2zM203 560h2v2h-2zM212 534h2v2h-2zM225 444h2v2h-2zM236 552h2v2h-2zM202 555h2v2h-2zM168 530h2v2h-2zM230 466h2v2h-2zM116 580h2v2h-2zM276 554h2v2h-2zM299 527h2v2h-2zM146 490h2v2h-2zM217 536h2v2h-2zM246 472h2v2h-2zM234 555h2v2h-2zM296 585h2v2h-2zM107 551h2v2h-2zM208 529h2v2h-2zM258 503h2v2h-2zM179 559h2v2h-2zM104 497h2v2h-2zM259 480h2v2h-2zM132 530h2v2h-2zM297 525h2v2h-2zM107 525h2v2h-2zM286 561h2v2h-2zM258 510h2v2h-2zM104 532h2v2h-2zM262 510h2v2h-2zM198 527h2v2h-2zM230 529h2v2h-2zM246 514h2v2h-2zM196 556h2v2h-2zM190 496h2v2h-2zM268 479h2v2h-2zM232 465h2v2h-2zM242 566h2v2h-2zM241 525h2v2h-2zM206 554h2v2h-2zM197 542h2v2h-2zM198 531h2v2h-2zM174 495h2v2h-2zM267 532h2v2h-2zM201 478h2v2h-2zM290 555h2v2h-2zM287 508h2v2h-2zM252 514h2v2h-2zM155 566h2v2h-2zM177 528h2v2h-2zM236 506h2v2h-2zM253 500h2v2h-2zM226 523h2v2h-2zM281 510h2v2h-2zM251 549h2v2h-2zM78 526h2v2h-2zM155 477h2v2h-2zM302 521h2v2h-2zM223 533h2v2h-2zM239 519h2v2h-2zM136 579h2v2h-2zM290 567h2v2h-2zM220 450h2v2h-2zM140 568h2v2h-2zM297 525h2v2h-2zM176 500h2v2h-2zM288 506h2v2h-2zM200 574h2v2h-2zM233 514h2v2h-2zM198 498h2v2h-2zM203 530h2v2h-2zM208 509h2v2h-2zM299 534h2v2h-2zM256 497h2v2h-2zM209 562h2v2h-2zM255 553h2v2h-2zM259 499h2v2h-2zM193 555h2v2h-2zM246 554h2v2h-2zM309 540h2v2h-2zM240 526h2v2h-2zM121 537h2v2h-2zM188 548h2v2h-2zM277 516h2v2h-2zM253 517h2v2h-2zM306 560h2v2h-2zM311 555h2v2h-2zM111 583h2v2h-2zM224 530h2v2h-2zM216 533h2v2h-2zM168 540h2v2h-2zM303 564h2v2h-2zM204 567h2v2h-2zM155 551h2v2h-2zM255 501h2v2h-2zM298 551h2v2h-2zM268 507h2v2h-2zM162 542h2v2h-2zM237 490h2v2h-2zM223 487h2v2h-2zM128 554h2v2h-2zM258 446h2v2h-2zM153 556h2v2h-2zM210 555h2v2h-2zM295 544h2v2h-2zM274 517h2v2h-2z"/><path fill="#0000ff" d="M196 537h2v2h-2zM290 514h2v2h-2zM238 539h2v2h-2zM294 517h2v2h-2zM260 484h2v2h-2zM244 502h2v2h-2zM288 546h2v2h-2zM278 521h2v2h-2zM211 483h2v2h-2zM179 486h2v2h-2zM151 494h2v2h-2zM253 523h2v2h-2zM268 558h2v2h-2zM208 568h2v2h-2zM283 547h2v2h-2zM288 527h2v2h-2zM276 571h2v2h-2zM273 519h2v2h-2zM187 532h2v2h-2zM266 599h2v2h-2zM258 565h2v2h-2zM284 566h2v2h-2zM259 554h2v2h-2zM266 517h2v2h-2zM204 348h2v2h-2zM199 541h2v2h-2zM253 508h2v2h-2zM277 534h2v2h-2zM294 520h2v2h-2zM243 472h2v2h-2zM294 573h2v2h-2zM228 509h2v2h-2zM278 535h2v2h-2zM267 528h2v2h-2zM269 545h2v2h-2zM276 518h2v2h-2zM299 544h2v2h-2zM287 558h2v2h-2zM272 540h2v2h-2zM251 528h2v2h-2zM268 497h2v2h-2zM185 563h2v2h-2zM269 530h2v2h-2zM274 517h2v2h-2zM285 556h2v2h-2zM291 566h2v2h-2zM277 492h2v2h-2zM275 531h2v2h-2zM263 539h2v2h-2zM249 508h2v2h-2zM245 533h2v2h-2zM184 499h2v2h-2zM120 550h2v2h-2zM284 540h2v2h-2zM293 550h2v2h-2zM281 575h2v2h-2zM178 558h2v2h-2zM219 547h2v2h-2zM297 560h2v2h-2zM280 530h2v2h-2zM260 498h2v2h-2zM268 521h2v2h-2zM139 556h2v2h-2zM148 549h2v2h-2zM204 566h2v2h-2zM283 529h2v2h-2zM273 537h2v2h-2zM302 568h2v2h-2zM269 548h2v2h-2zM273 524h2v2h-2zM246 502h2v2h-2zM274 489h2v2h-2zM273 497h2v2h-2zM286 553h2v2h-2zM271 533h2v2h-2zM292 517h2v2h-2zM238 564h2v2h-2zM191 563h2v2h-2zM236 547h2v2h-2zM126 554h2v2h-2zM265 546h2v2h-2zM255 537h2v2h-2zM248 499h2v2h-2zM240 527h2v2h-2zM239 559h2v2h-2zM292 579h2v2h-2zM263 518h2v2h-2zM255 505h2v2h-2zM289 536h2v2h-2zM285 544h2v2h-2zM194 384h2v2h-2zM238 529h2v2h-2zM160 552h2v2h-2zM298 550h2v2h-2zM251 556h2v2h-2zM251 556h2v2h-2zM188 588h2v2h-2zM246 478h2v2h-2zM208 505h2v2h-2zM202 551h2v2h-2zM207 479h2v2h-2zM263 573h2v2h-2zM280 459h2v2h-2zM272 512h2v2h-2zM274 475h2v2h-2zM275 530h2v2h-2zM191 551h2v2h-2zM284 561h2v2h-2zM281 523h2v2h-2zM275 531h2v2h-2zM279 554h2v2h-2zM196 558h2v2h-2zM268 586h2v2h-2zM301 572h2v2h-2zM234 536h2v2h-2zM283 548h2v2h-2zM273 511h2v2h-2zM196 528h2v2h-2zM263 529h2v2h-2zM257 543h2v2h-2zM294 556h2v2h-2zM160 532h2v2h-2zM281 512h2v2h-2zM286 560h2v2h-2zM289 523h2v2h-2zM229 483h2v2h-2zM277 531h2v2h-2zM244 563h2v2h-2zM270 532h2v2h-2zM281 543h2v2h-2zM269 529h2v2h-2zM275 545h2v2h-2zM272 522h2v2h-2zM239 523h2v2h-2zM279 546h2v2h-2zM261 479h2v2h-2zM248 571h2v2h-2zM274 503h2v2h-2zM278 531h2v2h-2zM263 558h2v2h-2zM298 570h2v2h-2zM99 539h2v2h-2zM267 541h2v2h-2zM89 522h2v2h-2zM170 545h2v2h-2zM225 557h2v2h-2zM169 568h2v2h-2zM261 537h2v2h-2zM248 496h2v2h-2zM281 560h2v2h-2zM292 530h2v2h-2zM249 543h2v2h-2zM212 494h2v2h-2zM249 533h2v2h-2zM260 542h2v2h-2zM277 571h2v2h-2zM280 570h2v2h-2zM271 565h2v2h-2zM292 526h2v2h-2zM233 534h2v2h-2zM181 569h2v2h-2zM178 548h2v2h-2zM266 499h2v2h-2zM249 536h2v2h-2zM168 520h2v2h-2zM299 554h2v2h-2zM234 482h2v2h-2zM282 540h2v2h-2zM248 538h2v2h-2zM269 562h2v2h-2zM159 577h2v2h-2zM185 525h2v2h-2zM256 466h2v2h-2zM194 555h2v2h-2zM188 585h2v2h-2zM142 526h2v2h-2zM283 530h2v2h-2zM290 536h2v2h-2zM280 569h2v2h-2zM245 522h2v2h-2zM232 537h2v2h-2zM174 529h2v2h-2zM185 576h2v2h-2zM103 532h2v2h-2zM291 559h2v2h-2zM285 558h2v2h-2zM200 550h2v2h-2zM295 542h2v2h-2zM268 562h2v2h-2zM287 571h2v2h-2zM271 527h2v2h-2zM225 499h2v2h-2zM269 531h2v2h-2zM286 542h2v2h-2zM271 573h2v2h-2zM206 560h2v2h-2zM282 577h2v2h-2zM262 479h2v2h-2zM266 528h2v2h-2zM198 498h2v2h-2zM243 527h2v2h-2zM285 526h2v2h-2zM220 572h2v2h-2zM302 554h2v2h-2zM282 550h2v2h-2zM276 565h2v2h-2zM248 426h2v2h-2zM247 553h2v2h-2zM250 560h2v2h-2zM259 419h2v2h-2zM192 536h2v2h-2zM286 574h2v2h-2zM185 538h2v2h-2zM271 529h2v2h-2zM275 525h2v2h-2zM263 521h2v2h-2zM217 566h2v2h-2zM292 535h2v2h-2zM290 576h2v2h-2zM100 478h2v2h-2zM298 543h2v2h-2zM262 510h2v2h-2zM185 558h2v2h-2zM271 517h2v2h-2zM279 559h2v2h-2zM249 526h2v2h-2zM169 551h2v2h-2zM284 519h2v2h-2zM237 589h2v2h-2zM297 558h2v2h-2zM284 560h2v2h-2zM269 552h2v2h-2zM283 508h2v2h-2zM293 578h2v2h-2zM233 534h2v2h-2z"/><path fill="#000000" d="M159 475h2v2h-2zM280 486h2v2h-2zM154 524h2v2h-2zM264 543h2v2h-2zM250 494h2v2h-2zM281 479h2v2h-2zM196 487h2v2h-2zM207 484h2v2h-2zM195 466h2v2h-2zM257 472h2v2h-2zM289 489h2v2h-2zM151 489h2v2h-2zM223 501h2v2h-2zM180 483h2v2h-2z"/><path fill="#ffff00" d="M300 490h2v2h-2zM181 512h2v2h-2zM289 503h2v2h-2zM339 502h2v2h-2zM218 441h2v2h-2zM273 489h2v2h-2zM410 482h2v2h-2zM281 415h2v2h-2zM217 490h2v2h-2zM322 431h2v2h-2zM324 524h2v2h-2zM315 486h2v2h-2zM388 422h2v2h-2zM222 480h2v2h-2zM163 467h2v2h-2zM221 458h2v2h-2zM292 561h2v2h-2zM266 526h2v2h-2zM244 404h2v2h-2zM304 439h2v2h-2zM354 527h2v2h-2zM242 434h2v2h-2zM255 372h2v2h-2zM331 435h2v2h-2zM231 469h2v2h-2zM332 493h2v2h-2zM279 496h2v2h-2zM260 472h2v2h-2zM234 523h2v2h-2zM311 409h2v2h-2zM179 433h2v2h-2zM322 468h2v2h-2zM241 455h2v2h-2zM251 454h2v2h-2zM209 544h2v2h-2zM210 470h2v2h-2zM247 487h2v2h-2zM260 451h2v2h-2zM270 491h2v2h-2zM297 493h2v2h-2zM327 510h2v2h-2zM270 418h2v2h-2zM239 525h2v2h-2zM204 434h2v2h-2zM269 479h2v2h-2zM245 467h2v2h-2zM401 489h2v2h-2zM287 539h2v2h-2zM271 574h2v2h-2zM218 489h2v2h-2zM272 517h2v2h-2zM287 560h2v2h-2zM250 406h2v2h-2zM226 505h2v2h-2zM241 500h2v2h-2zM297 418h2v2h-2zM237 506h2v2h-2zM259 488h2v2h-2zM279 483h2v2h-2zM260 460h2v2h-2zM319 471h2v2h-2zM247 435h2v2h-2zM300 444h2v2h-2zM118 465h2v2h-2zM183 137h2v2h-2zM261 470h2v2h-2zM218 503h2v2h-2zM282 400h2v2h-2zM395 465h2v2h-2zM237 479h2v2h-2zM213 550h2v2h-2zM292 479h2v2h-2zM278 514h2v2h-2zM333 476h2v2h-2zM351 517h2v2h-2zM249 469h2v2h-2zM314 510h2v2h-2zM254 520h2v2h-2zM249 502h2v2h-2zM173 405h2v2h-2zM308 442h2v2h-2zM286 502h2v2h-2zM254 501h2v2h-2zM364 494h2v2h-2zM287 435h2v2h-2zM214 487h2v2h-2zM311 469h2v2h-2zM220 428h2v2h-2zM239 446h2v2h-2zM242 394h2v2h-2zM289 467h2v2h-2zM212 491h2v2h-2zM249 435h2v2h-2zM266 465h2v2h-2zM388 456h2v2h-2zM315 451h2v2h-2zM283 529h2v2h-2zM281 479h2v2h-2zM170 490h2v2h-2zM244 367h2v2h-2zM177 515h2v2h-2zM321 385h2v2h-2zM308 450h2v2h-2zM270 496h2v2h-2zM278 533h2v2h-2zM241 200h2v2h-2zM238 420h2v2h-2zM112 477h2v2h-2zM216 506h2v2h-2zM257 507h2v2h-2zM189 277h2v2h-2zM340 447h2v2h-2zM288 542h2v2h-2zM260 450h2v2h-2zM254 513h2v2h-2zM274 544h2v2h-2zM256 469h2v2h-2zM290 484h2v2h-2zM274 492h2v2h-2zM288 551h2v2h-2zM330 467h2v2h-2zM272 493h2v2h-2z"/><path fill="#ff0000" d="M310 556h2v2h-2zM282 494h2v2h-2zM145 507h2v2h-2zM212 521h2v2h-2zM191 513h2v2h-2zM111 554h2v2h-2zM222 494h2v2h-2zM76 570h2v2h-2zM162 558h2v2h-2zM278 461h2v2h-2zM258 550h2v2h-2zM304 563h2v2h-2zM252 504h2v2h-2zM310 544h2v2h-2zM304 561h2v2h-2zM148 472h2v2h-2zM268 565h2v2h-2zM180 529h2v2h-2zM288 483h2v2h-2zM308 557h2v2h-2zM113 547h2v2h-2zM280 492h2v2h-2zM172 498h2v2h-2zM270 493h2v2h-2zM311 544h2v2h-2zM121 570h2v2h-2zM273 573h2v2h-2zM183 530h2v2h-2zM273 456h2v2h-2zM182 532h2v2h-2zM255 472h2v2h-2zM242 541h2v2h-2zM314 554h2v2h-2zM271 509h2v2h-2zM299 505h2v2h-2zM310 545h2v2h-2zM306 558h2v2h-2zM91 531h2v2h-2zM84 498h2v2h-2zM256 557h2v2h-2zM306 568h2v2h-2zM311 543h2v2h-2zM190 544h2v2h-2zM262 514h2v2h-2zM299 486h2v2h-2zM237 511h2v2h-2zM216 484h2v2h-2zM292 473h2v2h-2zM308 550h2v2h-2zM308 530h2v2h-2zM230 525h2v2h-2zM294 515h2v2h-2zM175 552h2v2h-2zM228 544h2v2h-2zM323 550h2v2h-2zM318 545h2v2h-2zM304 530h2v2h-2zM282 510h2v2h-2zM300 503h2v2h-2zM302 567h2v2h-2zM174 562h2v2h-2zM311 564h2v2h-2zM303 540h2v2h-2zM269 508h2v2h-2zM178 560h2v2h-2zM274 523h2v2h-2zM187 541h2v2h-2zM123 468h2v2h-2zM265 483h2v2h-2zM311 538h2v2h-2zM253 550h2v2h-2zM304 553h2v2h-2zM175 544h2v2h-2zM230 485h2v2h-2zM310 572h2v2h-2zM309 548h2v2h-2zM209 492h2v2h-2zM240 496h2v2h-2zM262 506h2v2h-2zM268 515h2v2h-2zM311 552h2v2h-2zM266 588h2v2h-2zM217 555h2v2h-2zM307 550h2v2h-2zM225 456h2v2h-2zM174 513h2v2h-2zM172 522h2v2h-2zM72 569h2v2h-2zM248 499h2v2h-2zM299 480h2v2h-2zM278 509h2v2h-2zM197 539h2v2h-2zM317 557h2v2h-2zM309 535h2v2h-2zM226 537h2v2h-2zM300 577h2v2h-2zM271 524h2v2h-2zM233 515h2v2h-2zM240 544h2v2h-2zM169 513h2v2h-2zM289 489h2v2h-2zM225 537h2v2h-2zM250 495h2v2h-2zM250 446h2v2h-2z"/><path fill="#00ff00" d="M228 444h2v2h-2zM300 546h2v2h-2zM297 518h2v2h-2zM286 567h2v2h-2zM83 539h2v2h-2zM288 569h2v2h-2zM157 520h2v2h-2zM106 526h2v2h-2zM276 536h2v2h-2zM269 569h2v2h-2zM243 483h2v2h-2zM274 555h2v2h-2zM184 551h2v2h-2zM288 526h2v2h-2zM270 493h2v2h-2zM251 519h2v2h-2zM269 492h2v2h-2zM117 567h2v2h-2zM108 559h2v2h-2zM230 490h2v2h-2zM225 536h2v2h-2zM291 472h2v2h-2zM297 523h2v2h-2zM187 564h2v2h-2zM306 545h2v2h-2zM254 498h2v2h-2zM295 548h2v2h-2zM275 519h2v2h-2zM162 527h2v2h-2zM176 379h2v2h-2zM290 555h2v2h-2zM301 522h2v2h-2zM247 494h2v2h-2zM297 560h2v2h-2zM282 515h2v2h-2zM138 539h2v2h-2zM234 548h2v2h-2zM300 566h2v2h-2zM192 550h2v2h-2zM210 519h2v2h-2zM227 518h2v2h-2zM219 546h2v2h-2zM94 571h2v2h-2zM186 463h2v2h-2zM187 563h2v2h-2zM157 514h2v2h-2zM232 545h2v2h-2zM232 469h2v2h-2zM272 494h2v2h-2zM305 558h2v2h-2zM254 478h2v2h-2zM285 480h2v2h-2zM293 520h2v2h-2zM234 514h2v2h-2zM267 539h2v2h-2zM227 537h2v2h-2zM218 498h2v2h-2zM256 501h2v2h-2zM181 555h2v2h-2zM197 495h2v2h-2zM245 480h2v2h-2zM231 535h2v2h-2zM289 477h2v2h-2zM309 544h2v2h-2zM276 523h2v2h-2zM281 513h2v2h-2zM280 506h2v2h-2zM185 542h2v2h-2zM272 487h2v2h-2zM224 493h2v2h-2zM289 512h2v2h-2zM265 522h2v2h-2zM95 557h2v2h-2zM258 463h2v2h-2zM188 421h2v2h-2zM218 522h2v2h-2zM298 512h2v2h-2zM255 456h2v2h-2zM297 557h2v2h-2zM190 566h2v2h-2zM267 487h2v2h-2zM285 479h2v2h-2zM272 524h2v2h-2zM246 500h2v2h-2zM278 488h2v2h-2zM231 491h2v2h-2zM288 519h2v2h-2zM240 552h2v2h-2zM285 530h2v2h-2zM242 515h2v2h-2zM255 566h2v2h-2zM246 545h2v2h-2zM301 557h2v2h-2zM291 527h2v2h-2zM104 586h2v2h-2zM293 531h2v2h-2zM267 528h2v2h-2zM150 557h2v2h-2zM304 532h2v2h-2zM311 543h2v2h-2zM249 500h2v2h-2zM268 559h2v2h-2zM295 544h2v2h-2zM272 462h2v2h-2zM293 516h2v2h-2zM276 566h2v2h-2zM300 559h2v2h-2zM290 507h2v2h-2zM224 486h2v2h-2zM270 475h2v2h-2zM159 541h2v2h-2zM308 538h2v2h-2zM222 540h2v2h-2zM238 475h2v2h-2zM196 502h2v2h-2zM182 532h2v2h-2zM249 495h2v2h-2zM224 506h2v2h-2zM239 482h2v2h-2zM280 520h2v2h-2zM178 548h2v2h-2zM197 552h2v2h-2zM80 468h2v2h-2zM306 522h2v2h-2zM235 563h2v2h-2zM276 501h2v2h-2zM299 520h2v2h-2zM305 540h2v2h-2zM272 498h2v2h-2zM288 557h2v2h-2zM309 543h2v2h-2zM256 532h2v2h-2zM306 541h2v2h-2zM308 551h2v2h-2zM252 522h2v2h-2zM291 572h2v2h-2zM305 549h2v2h-2zM293 529h2v2h-2zM268 541h2v2h-2zM99 519h2v2h-2zM284 565h2v2h-2z"/><path fill="#0000ff" d="M269 483h2v2h-2zM274 526h2v2h-2zM300 568h2v2h-2zM130 559h2v2h-2zM222 527h2v2h-2zM280 565h2v2h-2zM191 534h2v2h-2zM272 570h2v2h-2zM262 538h2v2h-2zM267 521h2v2h-2zM177 550h2v2h-2zM270 542h2v2h-2zM268 562h2v2h-2zM266 512h2v2h-2zM274 495h2v2h-2zM288 547h2v2h-2zM268 539h2v2h-2zM287 501h2v2h-2zM185 537h2v2h-2zM281 529h2v2h-2zM108 544h2v2h-2zM261 571h2v2h-2zM262 530h2v2h-2zM240 524h2v2h-2zM261 570h2v2h-2zM273 567h2v2h-2zM272 571h2v2h-2zM283 494h2v2h-2zM103 557h2v2h-2zM292 538h2v2h-2zM270 587h2v2h-2zM281 529h2v2h-2zM281 568h2v2h-2zM279 550h2v2h-2zM277 549h2v2h-2zM284 577h2v2h-2zM170 560h2v2h-2zM199 535h2v2h-2zM284 549h2v2h-2zM266 496h2v2h-2zM122 553h2v2h-2zM285 542h2v2h-2zM300 559h2v2h-2zM189 496h2v2h-2zM253 570h2v2h-2zM247 521h2v2h-2zM154 497h2v2h-2zM236 552h2v2h-2zM272 525h2v2h-2zM184 543h2v2h-2zM282 530h2v2h-2zM247 502h2v2h-2zM154 576h2v2h-2zM287 525h2v2h-2zM275 513h2v2h-2zM280 541h2v2h-2zM244 560h2v2h-2zM253 558h2v2h-2zM271 555h2v2h-2zM254 514h2v2h-2zM266 561h2v2h-2zM233 548h2v2h-2zM294 589h2v2h-2zM280 501h2v2h-2zM270 542h2v2h-2zM279 548h2v2h-2zM287 479h2v2h-2zM290 532h2v2h-2zM295 560h2v2h-2zM254 522h2v2h-2zM174 547h2v2h-2zM183 565h2v2h-2zM238 534h2v2h-2zM191 559h2v2h-2zM269 533h2v2h-2zM276 477h2v2h-2zM177 528h2v2h-2zM290 550h2v2h-2zM268 557h2v2h-2zM234 539h2v2h-2zM283 537h2v2h-2zM271 571h2v2h-2zM254 545h2v2h-2zM274 533h2v2h-2zM268 523h2v2h-2zM195 540h2v2h-2zM288 547h2v2h-2zM256 519h2v2h-2zM258 536h2v2h-2zM269 520h2v2h-2zM266 583h2v2h-2zM163 502h2v2h-2zM105 560h2v2h-2zM218 511h2v2h-2zM269 542h2v2h-2zM280 562h2v2h-2zM206 511h2v2h-2zM246 536h2v2h-2zM272 546h2v2h-2zM290 515h2v2h-2zM266 548h2v2h-2zM217 551h2v2h-2zM289 537h2v2h-2zM295 535h2v2h-2zM288 542h2v2h-2zM195 515h2v2h-2zM259 555h2v2h-2zM285 520h2v2h-2zM271 475h2v2h-2zM276 531h2v2h-2zM236 541h2v2h-2zM268 522h2v2h-2zM251 527h2v2h-2zM284 558h2v2h-2zM266 537h2v2h-2zM170 499h2v2h-2zM273 511h2v2h-2zM219 568h2v2h-2zM244 554h2v2h-2zM207 524h2v2h-2zM274 547h2v2h-2zM188 557h2v2h-2zM194 591h2v2h-2zM251 573h2v2h-2zM292 536h2v2h-2zM294 557h2v2h-2zM204 541h2v2h-2zM260 515h2v2h-2zM308 542h2v2h-2zM285 494h2v2h-2zM149 551h2v2h-2zM271 523h2v2h-2zM268 522h2v2h-2zM274 510h2v2h-2zM259 533h2v2h-2zM248 517h2v2h-2zM217 523h2v2h-2zM175 545h2v2h-2zM283 537h2v2h-2zM257 515h2v2h-2zM288 567h2v2h-2zM87 498h2v2h-2zM254 546h2v2h-2zM212 487h2v2h-2zM113 587h2v2h-2zM295 563h2v2h-2zM291 535h2v2h-2zM260 529h2v2h-2zM293 557h2v2h-2zM280 535h2v2h-2zM197 559h2v2h-2zM255 483h2v2h-2zM148 525h2v2h-2zM194 590h2v2h-2zM143 567h2v2h-2zM117 413h2v2h-2zM296 534h2v2h-2zM271 543h2v2h-2zM279 536h2v2h-2zM285 489h2v2h-2zM285 539h2v2h-2zM180 500h2v2h-2zM218 443h2v2h-2zM292 531h2v2h-2zM166 499h2v2h-2zM229 424h2v2h-2zM299 549h2v2h-2zM297 530h2v2h-2zM282 507h2v2h-2zM234 550h2v2h-2zM283 528h2v2h-2zM280 488h2v2h-2zM271 461h2v2h-2zM260 441h2v2h-2zM215 518h2v2h-2zM277 485h2v2h-2zM275 527h2v2h-2zM284 558h2v2h-2zM275 513h2v2h-2zM137 509h2v2h-2zM269 462h2v2h-2zM262 560h2v2h-2zM277 556h2v2h-2zM290 557h2v2h-2zM280 548h2v2h-2zM279 564h2v2h-2zM284 555h2v2h-2zM278 534h2v2h-2zM270 525h2v2h-2zM148 515h2v2h-2zM172 540h2v2h-2zM274 516h2v2h-2zM270 524h2v2h-2zM114 516h2v2h-2zM217 531h2v2h-2zM264 539h2v2h-2zM266 495h2v2h-2zM258 529h2v2h-2zM222 510h2v2h-2zM289 559h2v2h-2zM231 502h2v2h-2zM245 530h2v2h-2zM244 481h2v2h-2zM281 556h2v2h-2zM265 495h2v2h-2zM282 557h2v2h-2zM290 522h2v2h-2zM284 556h2v2h-2zM278 529h2v2h-2zM263 546h2v2h-2zM243 546h2v2h-2zM285 528h2v2h-2zM222 529h2v2h-2zM274 569h2v2h-2zM291 559h2v2h-2zM210 538h2v2h-2zM285 572h2v2h-2zM264 544h2v2h-2zM256 531h2v2h-2zM285 558h2v2h-2zM177 530h2v2h-2zM135 547h2v2h-2zM145 536h2v2h-2zM186 480h2v2h-2zM265 525h2v2h-2zM258 477h2v2h-2zM281 543h2v2h-2zM294 496h2v2h-2zM164 533h2v2h-2zM253 514h2v2h-2zM248 532h2v2h-2zM210 560h2v2h-2zM182 328h2v2h-2zM300 542h2v2h-2zM273 517h2v2h-2zM89 479h2v2h-2zM258 511h2v2h-2zM288 528h2v2h-2z"/><path fill="#000000" d="M146 430h2v2h-2zM158 515h2v2h-2zM172 506h2v2h-2zM244 475h2v2h-2zM175 465h2v2h-2zM77 539h2v2h-2zM98 468h2v2h-2zM75 531h2v2h-2zM167 482h2v2h-2zM224 515h2v2h-2zM268 477h2v2h-2zM229 440h2v2h-2zM155 515h2v2h-2zM232 474h2v2h-2zM229 437h2v2h-2z"/><path fill="#ffff00" d="M264 483h2v2h-2zM254 479h2v2h-2zM317 451h2v2h-2zM287 448h2v2h-2zM289 490h2v2h-2zM293 527h2v2h-2zM214 480h2v2h-2zM246 443h2v2h-2zM282 495h2v2h-2zM204 463h2v2h-2zM252 538h2v2h-2zM258 474h2v2h-2zM266 430h2v2h-2zM245 507h2v2h-2zM301 497h2v2h-2zM236 331h2v2h-2zM275 484h2v2h-2zM268 421h2v2h-2zM280 579h2v2h-2zM275 505h2v2h-2zM243 442h2v2h-2zM282 442h2v2h-2zM215 445h2v2h-2zM294 507h2v2h-2zM294 536h2v2h-2zM309 486h2v2h-2zM252 477h2v2h-2zM257 407h2v2h-2zM245 491h2v2h-2zM298 514h2v2h-2zM256 481h2v2h-2zM228 498h2v2h-2zM263 537h2v2h-2zM181 427h2v2h-2zM268 513h2v2h-2zM188 376h2v2h-2zM250 462h2v2h-2zM277 454h2v2h-2zM211 464h2v2h-2zM343 512h2v2h-2zM373 510h2v2h-2zM289 474h2v2h-2zM201 267h2v2h-2zM224 431h2v2h-2zM266 478h2v2h-2zM308 467h2v2h-2zM351 472h2v2h-2zM247 497h2v2h-2zM276 453h2v2h-2zM277 494h2v2h-2zM278 559h2v2h-2zM317 516h2v2h-2zM251 409h2v2h-2zM281 488h2v2h-2zM277 500h2v2h-2zM261 486h2v2h-2zM272 482h2v2h-2zM197 300h2v2h-2zM298 433h2v2h-2zM270 509h2v2h-2zM340 474h2v2h-2zM300 438h2v2h-2zM238 503h2v2h-2zM327 470h2v2h-2zM233 411h2v2h-2zM269 516h2v2h-2zM256 470h2v2h-2zM244 548h2v2h-2zM287 556h2v2h-2zM285 500h2v2h-2zM323 503h2v2h-2zM302 451h2v2h-2zM194 504h2v2h-2zM229 409h2v2h-2zM320 508h2v2h-2zM268 457h2v2h-2zM305 484h2v2h-2zM242 303h2v2h-2zM257 455h2v2h-2zM343 427h2v2h-2zM217 418h2v2h-2zM263 553h2v2h-2zM244 385h2v2h-2zM292 556h2v2h-2zM278 484h2v2h-2zM323 510h2v2h-2zM234 494h2v2h-2zM246 524h2v2h-2zM280 421h2v2h-2zM280 488h2v2h-2zM231 469h2v2h-2zM275 532h2v2h-2zM289 483h2v2h-2zM205 421h2v2h-2zM350 487h2v2h-2zM312 490h2v2h-2zM205 497h2v2h-2zM249 520h2v2h-2zM262 458h2v2h-2zM219 461h2v2h-2zM343 483h2v2h-2zM344 440h2v2h-2zM362 451h2v2h-2zM272 554h2v2h-2zM276 490h2v2h-2zM151 450h2v2h-2zM222 527h2v2h-2zM368 386h2v2h-2zM220 440h2v2h-2zM203 450h2v2h-2zM235 464h2v2h-2zM250 490h2v2h-2zM279 373h2v2h-2zM184 400h2v2h-2zM287 468h2v2h-2zM245 485h2v2h-2zM174 382h2v2h-2zM268 552h2v2h-2zM229 510h2v2h-2zM327 497h2v2h-2zM211 482h2v2h-2zM248 492h2v2h-2zM204 470h2v2h-2zM215 495h2v2h-2zM349 481h2v2h-2zM266 542h2v2h-2zM250 514h2v2h-2zM302 501h2v2h-2zM232 496h2v2h-2zM268 559h2v2h-2zM284 552h2v2h-2zM237 469h2v2h-2zM277 442h2v2h-2zM244 474h2v2h-2zM347 470h2v2h-2zM319 453h2v2h-2zM79 427h2v2h-2z"/><path fill="#ff0000" d="M118 537h2v2h-2zM184 458h2v2h-2zM169 547h2v2h-2zM88 565h2v2h-2zM177 497h2v2h-2zM119 526h2v2h-2zM313 543h2v2h-2zM213 494h2v2h-2zM309 539h2v2h-2zM100 550h2v2h-2zM271 501h2v2h-2zM162 536h2v2h-2zM220 491h2v2h-2zM117 537h2v2h-2zM265 449h2v2h-2zM300 510h2v2h-2zM251 508h2v2h-2zM306 574h2v2h-2zM209 523h2v2h-2zM162 544h2v2h-2zM218 559h2v2h-2zM256 477h2v2h-2zM170 456h2v2h-2zM185 565h2v2h-2zM192 500h2v2h-2zM262 492h2v2h-2zM294 477h2v2h-2zM154 532h2v2h-2zM274 477h2v2h-2zM305 568h2v2h-2zM83 498h2v2h-2zM191 514h2v2h-2zM75 502h2v2h-2zM177 548h2v2h-2zM262 512h2v2h-2zM89 573h2v2h-2zM243 509h2v2h-2zM182 532h2v2h-2zM197 515h2v2h-2zM159 551h2v2h-2zM177 580h2v2h-2zM140 557h2v2h-2zM200 569h2v2h-2zM172 543h2v2h-2zM165 570h2v2h-2zM185 444h2v2h-2zM312 552h2v2h-2zM274 475h2v2h-2zM197 532h2v2h-2zM233 483h2v2h-2zM276 537h2v2h-2zM214 551h2v2h-2zM276 516h2v2h-2zM211 517h2v2h-2zM82 576h2v2h-2zM204 514h2v2h-2zM300 574h2v2h-2zM181 538h2v2h-2zM87 542h2v2h-2zM274 500h2v2h-2zM206 500h2v2h-2zM176 485h2v2h-2zM270 541h2v2h-2zM178 502h2v2h-2zM237 499h2v2h-2zM270 522h2v2h-2zM305 578h2v2h-2zM311 545h2v2h-2zM96 550h2v2h-2zM236 463h2v2h-2zM318 549h2v2h-2zM233 491h2v2h-2zM215 490h2v2h-2zM317 568h2v2h-2zM305 570h2v2h-2zM212 513h2v2h-2zM237 538h2v2h-2z"/><path fill="#00ff00" d="M300 560h2v2h-2zM263 569h2v2h-2zM153 506h2v2h-2zM131 555h2v2h-2zM270 535h2v2h-2zM273 570h2v2h-2zM308 559h2v2h-2zM249 472h2v2h-2zM254 523h2v2h-2zM260 546h2v2h-2zM237 484h2v2h-2zM256 540h2v2h-2zM212 542h2v2h-2zM274 509h2v2h-2zM298 528h2v2h-2zM99 549h2v2h-2zM233 516h2v2h-2zM306 552h2v2h-2zM206 507h2v2h-2zM276 550h2v2h-2zM288 509h2v2h-2zM249 537h2v2h-2zM233 542h2v2h-2zM248 505h2v2h-2zM234 519h2v2h-2zM216 484h2v2h-2zM304 542h2v2h-2zM286 563h2v2h-2zM294 524h2v2h-2zM303 550h2v2h-2zM246 483h2v2h-2zM213 561h2v2h-2zM301 544h2v2h-2zM263 526h2v2h-2zM231 566h2v2h-2zM74 561h2v2h-2zM231 491h2v2h-2zM301 557h2v2h-2zM265 512h2v2h-2zM225 528h2v2h-2zM266 500h2v2h-2zM290 540h2v2h-2zM224 541h2v2h-2zM298 532h2v2h-2zM304 551h2v2h-2zM132 520h2v2h-2zM265 471h2v2h-2zM248 544h2v2h-2zM104 560h2v2h-2zM273 492h2v2h-2zM244 495h2v2h-2zM287 506h2v2h-2zM274 515h2v2h-2zM301 555h2v2h-2zM283 504h2v2h-2zM222 527h2v2h-2zM305 532h2v2h-2zM173 573h2v2h-2zM303 551h2v2h-2zM201 507h2v2h-2zM301 546h2v2h-2zM263 564h2v2h-2zM208 539h2v2h-2zM230 521h2v2h-2zM209 505h2v2h-2zM247 518h2v2h-2zM234 499h2v2h-2zM270 520h2v2h-2zM299 528h2v2h-2zM223 495h2v2h-2zM238 526h2v2h-2zM247 491h2v2h-2zM289 540h2v2h-2zM164 580h2v2h-2zM253 486h2v2h-2zM266 520h2v2h-2zM125 550h2v2h-2zM299 543h2v2h-2zM241 511h2v2h-2zM296 563h2v2h-2zM285 511h2v2h-2zM287 518h2v2h-2zM308 574h2v2h-2zM159 519h2v2h-2zM234 523h2v2h-2zM176 545h2v2h-2zM294 541h2v2h-2zM137 590h2v2h-2zM253 568h2v2h-2zM305 560h2v2h-2zM274 526h2v2h-2zM303 558h2v2h-2zM164 529h2v2h-2zM288 514h2v2h-2zM229 500h2v2h-2zM274 523h2v2h-2zM290 491h2v2h-2zM210 489h2v2h-2zM108 547h2v2h-2zM267 499h2v2h-2zM288 576h2v2h-2zM284 479h2v2h-2zM268 487h2v2h-2zM225 570h2v2h-2zM242 511h2v2h-2zM203 504h2v2h-2zM287 526h2v2h-2zM300 528h2v2h-2zM256 569h2v2h-2zM120 549h2v2h-2zM274 569h2v2h-2zM174 520h2v2h-2zM201 553h2v2h-2zM204 519h2v2h-2zM173 527h2v2h-2zM239 527h2v2h-2zM266 530h2v2h-2zM295 557h2v2h-2zM204 540h2v2h-2zM278 511h2v2h-2zM110 545h2v2h-2zM283 557h2v2h-2zM190 495h2v2h-2zM239 500h2v2h-2zM247 512h2v2h-2zM281 528h2v2h-2zM237 522h2v2h-2zM108 545h2v2h-2zM289 556h2v2h-2zM159 560h2v2h-2zM216 539h2v2h-2zM311 544h2v2h-2zM309 546h2v2h-2zM208 484h2v2h-2zM223 526h2v2h-2zM162 498h2v2h-2zM245 516h2v2h-2zM233 531h2v2h-2zM266 534h2v2h-2zM288 560h2v2h-2zM246 511h2v2h-2zM298 558h2v2h-2zM207 539h2v2h-2zM262 499h2v2h-2zM142 527h2v2h-2zM290 558h2v2h-2zM295 531h2v2h-2zM292 512h2v2h-2zM254 515h2v2h-2zM273 563h2v2h-2z"/><path fill="#0000ff" d="M292 547h2v2h-2zM278 536h2v2h-2zM270 555h2v2h-2zM289 561h2v2h-2zM287 554h2v2h-2zM284 535h2v2h-2zM268 535h2v2h-2zM270 560h2v2h-2zM290 538h2v2h-2zM75 545h2v2h-2zM282 531h2v2h-2zM289 576h2v2h-2zM276 533h2v2h-2zM182 546h2v2h-2zM265 543h2v2h-2zM281 507h2v2h-2zM282 487h2v2h-2zM260 542h2v2h-2zM296 554h2v2h-2zM197 495h2v2h-2zM262 495h2v2h-2zM258 532h2v2h-2zM175 513h2v2h-2zM266 540h2v2h-2zM236 540h2v2h-2zM255 553h2v2h-2zM262 545h2v2h-2zM136 518h2v2h-2zM267 550h2v2h-2zM280 528h2v2h-2zM248 519h2v2h-2zM181 537h2v2h-2zM281 532h2v2h-2zM249 538h2v2h-2zM289 560h2v2h-2zM273 516h2v2h-2zM284 528h2v2h-2zM166 558h2v2h-2zM169 518h2v2h-2zM285 548h2v2h-2zM225 509h2v2h-2zM199 537h2v2h-2zM273 500h2v2h-2zM271 525h2v2h-2zM286 546h2v2h-2zM289 565h2v2h-2zM290 535h2v2h-2zM236 524h2v2h-2zM277 508h2v2h-2zM172 514h2v2h-2zM237 492h2v2h-2zM289 554h2v2h-2zM208 541h2v2h-2zM286 561h2v2h-2zM277 545h2v2h-2zM256 511h2v2h-2zM291 565h2v2h-2zM260 545h2v2h-2zM143 492h2v2h-2zM301 528h2v2h-2zM231 556h2v2h-2zM275 531h2v2h-2zM257 485h2v2h-2zM280 529h2v2h-2zM292 550h2v2h-2zM286 575h2v2h-2zM243 532h2v2h-2zM247 510h2v2h-2zM227 545h2v2h-2zM252 510h2v2h-2zM282 571h2v2h-2zM275 556h2v2h-2zM287 498h2v2h-2zM289 539h2v2h-2zM275 546h2v2h-2zM270 520h2v2h-2zM286 519h2v2h-2zM175 505h2v2h-2zM264 523h2v2h-2zM286 543h2v2h-2zM257 496h2v2h-2zM263 548h2v2h-2zM276 547h2v2h-2zM288 562h2v2h-2zM253 536h2v2h-2zM292 562h2v2h-2zM177 546h2v2h-2zM294 567h2v2h-2zM170 535h2v2h-2zM245 545h2v2h-2zM294 573h2v2h-2zM226 513h2v2h-2zM269 555h2v2h-2zM287 548h2v2h-2zM231 547h2v2h-2zM276 536h2v2h-2zM280 490h2v2h-2zM169 555h2v2h-2zM291 529h2v2h-2zM247 549h2v2h-2zM261 511h2v2h-2zM278 558h2v2h-2zM280 488h2v2h-2zM248 489h2v2h-2zM259 553h2v2h-2zM284 522h2v2h-2zM302 546h2v2h-2zM273 521h2v2h-2zM268 534h2v2h-2zM257 516h2v2h-2zM191 516h2v2h-2zM284 573h2v2h-2zM294 568h2v2h-2zM259 540h2v2h-2zM297 529h2v2h-2zM225 534h2v2h-2zM192 551h2v2h-2zM227 487h2v2h-2zM264 529h2v2h-2zM201 538h2v2h-2zM201 501h2v2h-2zM282 525h2v2h-2zM259 543h2v2h-2zM267 547h2v2h-2zM188 510h2v2h-2zM254 554h2v2h-2zM271 492h2v2h-2zM260 529h2v2h-2zM258 480h2v2h-2zM288 557h2v2h-2zM270 534h2v2h-2zM285 550h2v2h-2zM301 534h2v2h-2zM217 566h2v2h-2zM258 557h2v2h-2zM286 553h2v2h-2zM267 552h2v2h-2zM272 535h2v2h-2zM293 572h2v2h-2zM264 510h2v2h-2zM292 548h2v2h-2zM192 553h2v2h-2zM269 482h2v2h-2zM282 486h2v2h-2zM232 554h2v2h-2zM167 478h2v2h-2zM278 544h2v2h-2zM193 556h2v2h-2zM296 564h2v2h-2zM219 511h2v2h-2zM287 586h2v2h-2zM169 565h2v2h-2zM228 537h2v2h-2zM274 485h2v2h-2zM269 546h2v2h-2zM284 562h2v2h-2zM279 517h2v2h-2zM235 589h2v2h-2zM263 533h2v2h-2zM242 553h2v2h-2zM268 554h2v2h-2zM264 531h2v2h-2zM121 501h2v2h-2zM270 568h2v2h-2zM288 538h2v2h-2zM289 532h2v2h-2zM260 534h2v2h-2zM187 544h2v2h-2zM282 525h2v2h-2zM268 552h2v2h-2zM231 546h2v2h-2zM291 536h2v2h-2zM137 572h2v2h-2zM187 584h2v2h-2zM297 546h2v2h-2zM291 508h2v2h-2zM279 509h2v2h-2zM282 488h2v2h-2zM269 495h2v2h-2zM278 496h2v2h-2zM210 535h2v2h-2zM274 511h2v2h-2zM242 434h2v2h-2zM288 542h2v2h-2zM287 542h2v2h-2zM248 543h2v2h-2zM286 567h2v2h-2zM203 561h2v2h-2zM265 551h2v2h-2zM245 567h2v2h-2zM230 482h2v2h-2zM285 537h2v2h-2zM279 523h2v2h-2zM226 541h2v2h-2zM256 558h2v2h-2zM197 571h2v2h-2zM265 568h2v2h-2zM300 583h2v2h-2zM249 545h2v2h-2zM184 529h2v2h-2zM271 563h2v2h-2zM208 530h2v2h-2zM261 531h2v2h-2zM274 564h2v2h-2zM182 487h2v2h-2zM255 479h2v2h-2zM240 478h2v2h-2zM186 562h2v2h-2zM219 579h2v2h-2zM75 551h2v2h-2zM137 541h2v2h-2zM238 574h2v2h-2zM257 510h2v2h-2zM281 528h2v2h-2zM292 587h2v2h-2zM252 547h2v2h-2zM208 537h2v2h-2zM163 495h2v2h-2zM276 530h2v2h-2zM195 587h2v2h-2zM283 580h2v2h-2zM262 505h2v2h-2zM273 511h2v2h-2zM208 508h2v2h-2zM265 528h2v2h-2zM264 500h2v2h-2zM291 555h2v2h-2zM86 551h2v2h-2zM259 556h2v2h-2zM151 505h2v2h-2zM280 523h2v2h-2zM269 524h2v2h-2zM294 542h2v2h-2zM284 515h2v2h-2zM282 511h2v2h-2zM208 561h2v2h-2zM258 497h2v2h-2zM292 524h2v2h-2zM285 533h2v2h-2zM299 552h2v2h-2zM265 535h2v2h-2zM273 540h2v2h-2zM248 531h2v2h-2z"/><path fill="#000000" d="M200 520h2v2h-2zM159 494h2v2h-2zM186 482h2v2h-2zM168 538h2v2h-2zM230 489h2v2h-2zM207 529h2v2h-2zM233 514h2v2h-2zM257 525h2v2h-2zM243 462h2v2h-2zM178 501h2v2h-2zM225 503h2v2h-2zM164 511h2v2h-2zM150 499h2v2h-2z"/><path fill="#ffff00" d="M360 555h2v2h-2zM287 506h2v2h-2zM325 429h2v2h-2zM238 439h2v2h-2zM296 214h2v2h-2zM383 453h2v2h-2zM286 578h2v2h-2zM239 469h2v2h-2zM246 502h2v2h-2zM256 431h2v2h-2zM311 444h2v2h-2zM332 479h2v2h-2zM276 523h2v2h-2zM351 529h2v2h-2zM279 520h2v2h-2zM355 494h2v2h-2zM202 480h2v2h-2zM266 551h2v2h-2zM242 513h2v2h-2zM252 374h2v2h-2zM232 456h2v2h-2zM416 480h2v2h-2zM404 482h2v2h-2zM238 477h2v2h-2zM330 448h2v2h-2zM296 461h2v2h-2zM300 547h2v2h-2zM225 467h2v2h-2zM272 484h2v2h-2zM271 550h2v2h-2zM322 454h2v2h-2zM240 433h2v2h-2zM236 505h2v2h-2zM240 380h2v2h-2zM208 485h2v2h-2zM304 489h2v2h-2zM385 558h2v2h-2zM348 435h2v2h-2zM272 445h2v2h-2zM266 538h2v2h-2zM237 500h2v2h-2zM327 417h2v2h-2zM268 468h2v2h-2zM295 482h2v2h-2zM332 457h2v2h-2zM270 491h2v2h-2zM273 482h2v2h-2zM270 440h2v2h-2zM249 473h2v2h-2zM276 550h2v2h-2zM210 298h2v2h-2zM204 443h2v2h-2zM399 404h2v2h-2zM247 547h2v2h-2zM224 328h2v2h-2zM267 509h2v2h-2zM236 470h2v2h-2zM213 484h2v2h-2zM297 543h2v2h-2zM281 499h2v2h-2zM345 422h2v2h-2zM216 438h2v2h-2zM254 488h2v2h-2zM200 459h2v2h-2zM181 399h2v2h-2zM281 568h2v2h-2zM200 177h2v2h-2zM190 456h2v2h-2zM332 537h2v2h-2zM265 442h2v2h-2zM298 548h2v2h-2zM271 489h2v2h-2zM356 487h2v2h-2zM254 538h2v2h-2zM267 477h2v2h-2zM268 379h2v2h-2zM301 508h2v2h-2zM278 481h2v2h-2zM259 455h2v2h-2zM265 499h2v2h-2zM402 487h2v2h-2zM279 500h2v2h-2zM272 479h2v2h-2zM230 389h2v2h-2zM245 235h2v2h-2zM228 430h2v2h-2zM344 485h2v2h-2zM273 504h2v2h-2zM230 397h2v2h-2zM280 458h2v2h-2zM218 402h2v2h-2zM225 495h2v2h-2zM334 494h2v2h-2zM391 449h2v2h-2zM221 519h2v2h-2zM268 502h2v2h-2zM252 491h2v2h-2zM238 460h2v2h-2zM350 499h2v2h-2zM312 441h2v2h-2zM293 471h2v2h-2zM284 478h2v2h-2zM265 484h2v2h-2zM287 555h2v2h-2zM315 476h2v2h-2zM327 381h2v2h-2zM281 480h2v2h-2zM212 462h2v2h-2zM180 419h2v2h-2zM249 448h2v2h-2zM334 480h2v2h-2zM225 508h2v2h-2zM278 482h2v2h-2zM226 455h2v2h-2zM241 473h2v2h-2zM208 352h2v2h-2zM240 505h2v2h-2zM238 448h2v2h-2zM277 567h2v2h-2zM299 485h2v2h-2zM244 236h2v2h-2zM345 433h2v2h-2zM199 498h2v2h-2zM286 494h2v2h-2zM348 465h2v2h-2zM219 342h2v2h-2z"/><path fill="#ff0000" d="M201 484h2v2h-2zM236 491h2v2h-2zM225 507h2v2h-2zM312 561h2v2h-2zM312 543h2v2h-2zM225 566h2v2h-2zM207 478h2v2h-2zM192 557h2v2h-2zM304 577h2v2h-2zM306 521h2v2h-2zM288 478h2v2h-2zM103 540h2v2h-2zM223 535h2v2h-2zM308 564h2v2h-2zM306 524h2v2h-2zM186 532h2v2h-2zM246 522h2v2h-2zM165 477h2v2h-2zM271 540h2v2h-2zM271 549h2v2h-2zM263 509h2v2h-2zM308 554h2v2h-2zM257 480h2v2h-2zM265 536h2v2h-2zM237 479h2v2h-2zM258 532h2v2h-2zM261 549h2v2h-2zM306 535h2v2h-2zM287 494h2v2h-2zM90 441h2v2h-2zM301 565h2v2h-2zM140 541h2v2h-2zM295 564h2v2h-2zM278 567h2v2h-2zM304 563h2v2h-2zM286 515h2v2h-2zM271 463h2v2h-2zM274 571h2v2h-2zM306 537h2v2h-2zM283 510h2v2h-2zM278 566h2v2h-2zM303 528h2v2h-2zM186 501h2v2h-2zM304 574h2v2h-2zM279 507h2v2h-2zM266 490h2v2h-2zM282 503h2v2h-2zM152 545h2v2h-2zM309 511h2v2h-2zM224 541h2v2h-2zM255 500h2v2h-2zM208 533h2v2h-2zM316 541h2v2h-2zM299 482h2v2h-2zM305 497h2v2h-2zM259 488h2v2h-2zM291 508h2v2h-2zM289 509h2v2h-2zM241 496h2v2h-2zM275 554h2v2h-2zM153 521h2v2h-2zM252 543h2v2h-2zM292 473h2v2h-2zM299 486h2v2h-2zM159 481h2v2h-2zM223 538h2v2h-2zM85 543h2v2h-2zM96 553h2v2h-2zM310 550h2v2h-2zM192 488h2v2h-2zM227 494h2v2h-2zM223 541h2v2h-2zM218 551h2v2h-2zM251 554h2v2h-2zM255 503h2v2h-2zM311 561h2v2h-2zM303 510h2v2h-2zM152 525h2v2h-2zM298 506h2v2h-2zM107 532h2v2h-2zM258 506h2v2h-2zM297 518h2v2h-2zM262 541h2v2h-2zM216 507h2v2h-2zM242 558h2v2h-2zM269 520h2v2h-2zM211 533h2v2h-2zM214 523h2v2h-2zM306 547h2v2h-2zM296 521h2v2h-2zM191 537h2v2h-2zM232 533h2v2h-2zM281 495h2v2h-2zM71 561h2v2h-2zM241 460h2v2h-2zM240 488h2v2h-2zM217 566h2v2h-2z"/><path fill="#00ff00" d="M178 536h2v2h-2zM226 554h2v2h-2zM294 562h2v2h-2zM303 557h2v2h-2zM270 488h2v2h-2zM272 538h2v2h-2zM253 543h2v2h-2zM299 549h2v2h-2zM257 535h2v2h-2zM206 486h2v2h-2zM217 486h2v2h-2zM296 568h2v2h-2zM300 558h2v2h-2zM155 554h2v2h-2zM233 554h2v2h-2zM144 564h2v2h-2zM195 567h2v2h-2zM211 539h2v2h-2zM227 504h2v2h-2zM176 525h2v2h-2zM271 600h2v2h-2zM220 498h2v2h-2zM290 536h2v2h-2zM308 551h2v2h-2zM109 530h2v2h-2zM240 514h2v2h-2zM244 498h2v2h-2zM303 539h2v2h-2zM293 587h2v2h-2zM253 569h2v2h-2zM232 497h2v2h-2zM292 546h2v2h-2zM242 479h2v2h-2zM221 515h2v2h-2zM240 546h2v2h-2zM300 540h2v2h-2zM281 486h2v2h-2zM217 487h2v2h-2zM288 561h2v2h-2zM206 533h2v2h-2zM291 547h2v2h-2zM289 510h2v2h-2zM193 499h2v2h-2zM241 552h2v2h-2zM256 522h2v2h-2zM169 545h2v2h-2zM246 453h2v2h-2zM279 567h2v2h-2zM105 521h2v2h-2zM233 487h2v2h-2zM177 530h2v2h-2zM279 526h2v2h-2zM282 494h2v2h-2zM287 491h2v2h-2zM265 520h2v2h-2zM238 551h2v2h-2zM290 544h2v2h-2zM307 558h2v2h-2zM265 527h2v2h-2zM279 520h2v2h-2zM226 484h2v2h-2zM264 563h2v2h-2zM218 507h2v2h-2zM309 544h2v2h-2zM313 544h2v2h-2zM254 499h2v2h-2zM307 528h2v2h-2zM228 539h2v2h-2zM297 538h2v2h-2zM290 535h2v2h-2zM229 517h2v2h-2zM309 557h2v2h-2zM278 516h2v2h-2zM281 502h2v2h-2zM175 553h2v2h-2zM252 476h2v2h-2zM307 531h2v2h-2zM278 500h2v2h-2zM264 532h2v2h-2zM220 579h2v2h-2zM295 515h2v2h-2zM266 511h2v2h-2zM285 491h2v2h-2zM255 512h2v2h-2zM167 536h2v2h-2zM249 478h2v2h-2zM277 481h2v2h-2zM296 539h2v2h-2zM286 563h2v2h-2zM140 546h2v2h-2zM226 538h2v2h-2zM289 541h2v2h-2zM311 555h2v2h-2zM313 546h2v2h-2zM299 541h2v2h-2zM204 513h2v2h-2zM231 477h2v2h-2zM243 563h2v2h-2zM204 502h2v2h-2zM279 485h2v2h-2zM270 497h2v2h-2zM255 571h2v2h-2zM245 542h2v2h-2zM192 551h2v2h-2zM308 560h2v2h-2zM239 441h2v2h-2zM259 485h2v2h-2zM253 483h2v2h-2zM177 571h2v2h-2zM184 551h2v2h-2zM156 540h2v2h-2zM214 519h2v2h-2zM291 506h2v2h-2zM277 513h2v2h-2zM223 549h2v2h-2zM217 544h2v2h-2zM296 571h2v2h-2zM284 546h2v2h-2zM94 538h2v2h-2zM271 479h2v2h-2zM258 524h2v2h-2zM292 505h2v2h-2zM246 519h2v2h-2zM223 495h2v2h-2zM169 542h2v2h-2zM307 550h2v2h-2zM260 519h2v2h-2zM143 535h2v2h-2zM208 481h2v2h-2zM299 531h2v2h-2zM247 568h2v2h-2zM251 484h2v2h-2zM84 541h2v2h-2zM291 543h2v2h-2zM286 491h2v2h-2zM225 546h2v2h-2zM76 591h2v2h-2zM199 505h2v2h-2zM267 524h2v2h-2zM246 505h2v2h-2zM111 514h2v2h-2zM221 489h2v2h-2zM266 498h2v2h-2zM243 553h2v2h-2zM111 534h2v2h-2zM151 574h2v2h-2zM277 522h2v2h-2zM233 507h2v2h-2zM131 553h2v2h-2z"/><path fill="#0000ff" d="M248 431h2v2h-2zM295 523h2v2h-2zM185 546h2v2h-2zM216 537h2v2h-2zM272 496h2v2h-2zM94 540h2v2h-2zM266 534h2v2h-2zM281 539h2v2h-2zM246 425h2v2h-2zM275 523h2v2h-2zM281 526h2v2h-2zM255 531h2v2h-2zM272 514h2v2h-2zM189 554h2v2h-2zM176 511h2v2h-2zM171 535h2v2h-2zM267 516h2v2h-2zM292 512h2v2h-2zM300 558h2v2h-2zM286 577h2v2h-2zM246 529h2v2h-2zM272 557h2v2h-2zM262 544h2v2h-2zM274 528h2v2h-2zM273 563h2v2h-2zM292 565h2v2h-2zM272 559h2v2h-2zM273 507h2v2h-2zM272 536h2v2h-2zM240 516h2v2h-2zM309 548h2v2h-2zM288 513h2v2h-2zM231 554h2v2h-2zM289 562h2v2h-2zM282 570h2v2h-2zM259 540h2v2h-2zM287 583h2v2h-2zM280 541h2v2h-2zM117 568h2v2h-2zM288 558h2v2h-2zM275 528h2v2h-2zM284 556h2v2h-2zM264 514h2v2h-2zM252 506h2v2h-2zM246 489h2v2h-2zM278 539h2v2h-2zM242 519h2v2h-2zM284 558h2v2h-2zM263 494h2v2h-2zM276 524h2v2h-2zM273 547h2v2h-2zM281 563h2v2h-2zM268 531h2v2h-2zM273 514h2v2h-2zM289 578h2v2h-2zM297 544h2v2h-2zM172 551h2v2h-2zM311 559h2v2h-2zM286 583h2v2h-2zM241 571h2v2h-2zM289 537h2v2h-2zM181 448h2v2h-2zM281 499h2v2h-2zM276 537h2v2h-2zM245 528h2v2h-2zM254 520h2v2h-2zM247 468h2v2h-2zM250 495h2v2h-2zM232 535h2v2h-2zM258 510h2v2h-2zM264 487h2v2h-2zM278 558h2v2h-2zM272 568h2v2h-2zM284 524h2v2h-2zM282 533h2v2h-2zM264 520h2v2h-2zM278 569h2v2h-2zM274 570h2v2h-2zM185 537h2v2h-2zM263 538h2v2h-2zM287 562h2v2h-2zM264 535h2v2h-2zM235 533h2v2h-2zM221 542h2v2h-2zM268 510h2v2h-2zM235 514h2v2h-2zM182 587h2v2h-2zM263 528h2v2h-2zM292 541h2v2h-2zM193 481h2v2h-2zM100 538h2v2h-2zM290 555h2v2h-2zM221 554h2v2h-2zM106 538h2v2h-2zM284 509h2v2h-2zM287 562h2v2h-2zM84 562h2v2h-2zM296 541h2v2h-2zM268 537h2v2h-2zM170 540h2v2h-2zM270 542h2v2h-2zM268 535h2v2h-2zM275 538h2v2h-2zM230 536h2v2h-2zM282 572h2v2h-2zM283 529h2v2h-2zM293 527h2v2h-2zM261 495h2v2h-2zM290 538h2v2h-2zM172 542h2v2h-2zM169 535h2v2h-2zM286 563h2v2h-2zM107 472h2v2h-2zM173 487h2v2h-2zM186 570h2v2h-2zM268 537h2v2h-2zM263 481h2v2h-2zM288 539h2v2h-2zM277 541h2v2h-2zM270 526h2v2h-2zM300 559h2v2h-2zM286 557h2v2h-2zM282 506h2v2h-2zM284 545h2v2h-2zM188 535h2v2h-2zM241 548h2v2h-2zM167 526h2v2h-2zM269 546h2v2h-2zM256 539h2v2h-2zM255 574h2v2h-2zM167 563h2v2h-2zM217 482h2v2h-2zM270 497h2v2h-2zM250 549h2v2h-2zM140 543h2v2h-2zM249 538h2v2h-2zM166 576h2v2h-2zM288 532h2v2h-2zM233 520h2v2h-2zM284 585h2v2h-2zM253 550h2v2h-2zM270 499h2v2h-2zM239 536h2v2h-2zM282 553h2v2h-2zM279 544h2v2h-2zM261 531h2v2h-2zM221 528h2v2h-2zM278 556h2v2h-2zM287 548h2v2h-2zM230 545h2v2h-2zM277 534h2v2h-2zM286 480h2v2h-2zM282 485h2v2h-2zM211 547h2v2h-2zM295 523h2v2h-2zM268 567h2v2h-2zM270 541h2v2h-2zM174 547h2v2h-2zM269 535h2v2h-2zM239 456h2v2h-2zM282 541h2v2h-2zM281 542h2v2h-2zM286 547h2v2h-2zM235 444h2v2h-2zM194 536h2v2h-2zM237 517h2v2h-2zM270 464h2v2h-2zM243 525h2v2h-2zM299 554h2v2h-2zM260 558h2v2h-2zM228 443h2v2h-2zM285 536h2v2h-2zM219 488h2v2h-2zM287 574h2v2h-2zM186 573h2v2h-2zM264 542h2v2h-2zM229 525h2v2h-2zM251 554h2v2h-2zM261 495h2v2h-2zM277 507h2v2h-2zM285 526h2v2h-2zM216 496h2v2h-2zM275 500h2v2h-2zM238 546h2v2h-2zM268 561h2v2h-2zM255 506h2v2h-2zM277 563h2v2h-2zM287 527h2v2h-2zM263 535h2v2h-2zM277 537h2v2h-2zM290 535h2v2h-2zM269 504h2v2h-2zM197 538h2v2h-2zM118 590h2v2h-2zM136 545h2v2h-2zM200 538h2v2h-2zM270 553h2v2h-2zM148 523h2v2h-2zM275 585h2v2h-2zM102 567h2v2h-2zM168 499h2v2h-2zM209 515h2v2h-2zM262 586h2v2h-2zM262 488h2v2h-2zM208 531h2v2h-2zM129 554h2v2h-2zM210 512h2v2h-2zM250 512h2v2h-2zM289 560h2v2h-2zM263 486h2v2h-2zM243 598h2v2h-2zM271 558h2v2h-2zM215 546h2v2h-2zM294 535h2v2h-2zM292 552h2v2h-2zM174 485h2v2h-2zM251 492h2v2h-2zM203 534h2v2h-2zM268 509h2v2h-2zM290 532h2v2h-2zM298 558h2v2h-2zM220 486h2v2h-2zM269 539h2v2h-2zM307 548h2v2h-2zM224 532h2v2h-2zM169 545h2v2h-2zM242 546h2v2h-2zM217 533h2v2h-2zM257 520h2v2h-2zM310 535h2v2h-2zM263 511h2v2h-2zM280 522h2v2h-2zM279 516h2v2h-2zM227 544h2v2h-2zM146 518h2v2h-2zM239 528h2v2h-2zM188 536h2v2h-2zM298 557h2v2h-2z"/><path fill="#000000" d="M234 443h2v2h-2zM108 513h2v2h-2zM213 535h2v2h-2zM241 464h2v2h-2zM207 495h2v2h-2zM165 529h2v2h-2zM158 517h2v2h-2zM265 550h2v2h-2zM265 501h2v2h-2zM240 439h2v2h-2z"/><path fill="#ffff00" d="M240 409h2v2h-2zM259 511h2v2h-2zM290 485h2v2h-2zM337 512h2v2h-2zM234 493h2v2h-2zM80 272h2v2h-2zM356 492h2v2h-2zM268 434h2v2h-2zM297 449h2v2h-2zM283 439h2v2h-2zM260 397h2v2h-2zM236 335h2v2h-2zM262 482h2v2h-2zM247 372h2v2h-2zM182 431h2v2h-2zM280 501h2v2h-2zM218 425h2v2h-2zM228 425h2v2h-2zM324 498h2v2h-2zM258 441h2v2h-2zM299 550h2v2h-2zM220 488h2v2h-2zM216 475h2v2h-2zM371 489h2v2h-2zM195 347h2v2h-2zM188 436h2v2h-2zM413 495h2v2h-2zM291 534h2v2h-2zM277 485h2v2h-2zM385 439h2v2h-2zM112 406h2v2h-2zM291 497h2v2h-2zM404 453h2v2h-2zM252 454h2v2h-2zM248 507h2v2h-2zM264 384h2v2h-2zM187 403h2v2h-2zM197 396h2v2h-2zM222 467h2v2h-2zM254 453h2v2h-2zM322 458h2v2h-2zM223 426h2v2h-2zM256 399h2v2h-2zM223 505h2v2h-2zM235 514h2v2h-2zM275 491h2v2h-2zM258 474h2v2h-2zM351 458h2v2h-2zM265 467h2v2h-2zM311 478h2v2h-2zM262 517h2v2h-2zM240 500h2v2h-2zM272 490h2v2h-2zM272 532h2v2h-2zM374 522h2v2h-2zM203 368h2v2h-2zM277 486h2v2h-2zM243 444h2v2h-2zM280 435h2v2h-2zM264 420h2v2h-2zM290 485h2v2h-2zM235 468h2v2h-2zM357 433h2v2h-2zM270 467h2v2h-2zM277 557h2v2h-2zM252 351h2v2h-2zM261 508h2v2h-2zM236 431h2v2h-2zM340 457h2v2h-2zM277 550h2v2h-2zM187 418h2v2h-2zM290 407h2v2h-2zM237 486h2v2h-2zM219 383h2v2h-2zM210 419h2v2h-2zM278 429h2v2h-2zM305 424h2v2h-2zM252 456h2v2h-2zM233 381h2v2h-2zM215 452h2v2h-2zM253 351h2v2h-2zM235 466h2v2h-2zM244 477h2v2h-2zM217 246h2v2h-2zM357 512h2v2h-2zM267 475h2v2h-2zM281 417h2v2h-2zM220 506h2v2h-2zM396 531h2v2h-2zM189 138h2v2h-2zM288 531h2v2h-2zM390 490h2v2h-2zM154 357h2v2h-2zM233 365h2v2h-2zM204 439h2v2h-2zM367 456h2v2h-2zM221 437h2v2h-2zM287 431h2v2h-2zM266 471h2v2h-2zM331 507h2v2h-2zM170 527h2v2h-2zM239 511h2v2h-2zM146 206h2v2h-2zM294 536h2v2h-2zM225 524h2v2h-2zM228 531h2v2h-2zM277 472h2v2h-2zM290 334h2v2h-2zM233 460h2v2h-2zM178 387h2v2h-2zM262 449h2v2h-2zM244 490h2v2h-2zM235 334h2v2h-2zM243 486h2v2h-2zM229 506h2v2h-2zM232 491h2v2h-2zM329 472h2v2h-2zM253 450h2v2h-2zM234 455h2v2h-2zM368 477h2v2h-2zM292 442h2v2h-2zM237 424h2v2h-2zM214 302h2v2h-2zM276 536h2v2h-2zM334 491h2v2h-2zM222 135h2v2h-2zM336 485h2v2h-2zM197 400h2v2h-2zM271 508h2v2h-2zM178 519h2v2h-2zM343 481h2v2h-2zM208 508h2v2h-2zM243 473h2v2h-2zM254 468h2v2h-2zM266 483h2v2h-2zM180 334h2v2h-2z"/><path fill="#ff0000" d="M306 575h2v2h-2zM272 518h2v2h-2zM307 518h2v2h-2zM139 528h2v2h-2zM225 512h2v2h-2zM301 525h2v2h-2zM185 534h2v2h-2zM262 561h2v2h-2zM305 543h2v2h-2zM216 528h2v2h-2zM163 538h2v2h-2zM141 551h2v2h-2zM102 556h2v2h-2zM134 506h2v2h-2zM309 582h2v2h-2zM146 516h2v2h-2zM263 548h2v2h-2zM285 510h2v2h-2zM202 528h2v2h-2zM315 521h2v2h-2zM312 570h2v2h-2zM197 530h2v2h-2zM315 563h2v2h-2zM222 521h2v2h-2zM246 513h2v2h-2zM283 486h2v2h-2zM288 513h2v2h-2zM311 540h2v2h-2zM270 541h2v2h-2zM189 534h2v2h-2zM306 566h2v2h-2zM233 494h2v2h-2zM240 539h2v2h-2zM268 531h2v2h-2zM303 557h2v2h-2zM121 504h2v2h-2zM309 558h2v2h-2zM276 524h2v2h-2zM233 532h2v2h-2zM226 529h2v2h-2zM229 518h2v2h-2zM225 523h2v2h-2zM216 494h2v2h-2zM312 568h2v2h-2zM262 505h2v2h-2zM192 506h2v2h-2zM306 557h2v2h-2zM257 485h2v2h-2zM237 552h2v2h-2zM312 555h2v2h-2zM194 573h2v2h-2zM120 520h2v2h-2zM268 544h2v2h-2zM302 578h2v2h-2zM175 573h2v2h-2zM149 549h2v2h-2zM207 530h2v2h-2zM239 491h2v2h-2zM263 489h2v2h-2zM303 532h2v2h-2zM84 370h2v2h-2zM179 478h2v2h-2zM317 539h2v2h-2zM309 533h2v2h-2zM261 548h2v2h-2zM145 502h2v2h-2zM202 563h2v2h-2zM256 490h2v2h-2zM265 552h2v2h-2zM119 528h2v2h-2zM302 580h2v2h-2zM267 565h2v2h-2zM278 522h2v2h-2zM270 516h2v2h-2zM248 540h2v2h-2zM279 563h2v2h-2zM279 566h2v2h-2zM261 556h2v2h-2zM313 546h2v2h-2zM187 566h2v2h-2zM292 496h2v2h-2zM260 556h2v2h-2zM248 485h2v2h-2zM271 531h2v2h-2zM136 547h2v2h-2zM117 477h2v2h-2zM224 545h2v2h-2zM290 502h2v2h-2zM310 543h2v2h-2zM291 513h2v2h-2zM312 529h2v2h-2zM206 481h2v2h-2zM280 555h2v2h-2zM75 551h2v2h-2zM315 542h2v2h-2zM198 573h2v2h-2zM112 509h2v2h-2zM298 526h2v2h-2zM237 538h2v2h-2zM174 561h2v2h-2zM195 509h2v2h-2zM168 550h2v2h-2zM150 536h2v2h-2zM315 556h2v2h-2zM259 507h2v2h-2z"/><path fill="#00ff00" d="M289 517h2v2h-2zM261 456h2v2h-2zM271 503h2v2h-2zM169 554h2v2h-2zM304 531h2v2h-2zM302 558h2v2h-2zM277 516h2v2h-2zM267 511h2v2h-2zM244 396h2v2h-2zM237 490h2v2h-2zM268 538h2v2h-2zM309 542h2v2h-2zM185 568h2v2h-2zM239 544h2v2h-2zM265 534h2v2h-2zM218 532h2v2h-2zM285 516h2v2h-2zM273 488h2v2h-2zM162 543h2v2h-2zM240 538h2v2h-2zM305 559h2v2h-2zM242 515h2v2h-2zM297 559h2v2h-2zM212 484h2v2h-2zM276 511h2v2h-2zM140 532h2v2h-2zM212 549h2v2h-2zM277 527h2v2h-2zM290 521h2v2h-2zM308 561h2v2h-2zM276 484h2v2h-2zM279 561h2v2h-2zM289 522h2v2h-2zM122 423h2v2h-2zM302 554h2v2h-2zM261 464h2v2h-2zM252 493h2v2h-2zM273 523h2v2h-2zM303 544h2v2h-2zM234 508h2v2h-2zM202 518h2v2h-2zM248 550h2v2h-2zM229 574h2v2h-2zM190 550h2v2h-2zM206 523h2v2h-2zM303 530h2v2h-2zM100 558h2v2h-2zM278 514h2v2h-2zM270 534h2v2h-2zM296 534h2v2h-2zM237 545h2v2h-2zM198 505h2v2h-2zM301 560h2v2h-2zM290 548h2v2h-2zM255 463h2v2h-2zM281 516h2v2h-2zM254 483h2v2h-2zM266 519h2v2h-2zM191 546h2v2h-2zM151 545h2v2h-2zM248 528h2v2h-2zM202 535h2v2h-2zM273 521h2v2h-2zM190 510h2v2h-2zM274 526h2v2h-2zM273 531h2v2h-2zM226 508h2v2h-2zM281 560h2v2h-2zM123 529h2v2h-2zM297 547h2v2h-2zM184 557h2v2h-2zM288 541h2v2h-2zM223 526h2v2h-2zM116 526h2v2h-2zM289 523h2v2h-2zM259 564h2v2h-2zM162 537h2v2h-2zM270 451h2v2h-2zM304 522h2v2h-2zM231 508h2v2h-2zM294 526h2v2h-2zM308 546h2v2h-2zM310 536h2v2h-2zM203 520h2v2h-2zM291 502h2v2h-2zM286 535h2v2h-2zM255 479h2v2h-2zM190 528h2v2h-2zM90 569h2v2h-2zM125 443h2v2h-2zM265 524h2v2h-2zM271 521h2v2h-2zM254 544h2v2h-2zM223 546h2v2h-2zM244 481h2v2h-2zM300 548h2v2h-2zM309 545h2v2h-2zM132 530h2v2h-2zM276 487h2v2h-2zM172 485h2v2h-2zM308 529h2v2h-2zM279 491h2v2h-2zM299 529h2v2h-2zM264 446h2v2h-2zM222 496h2v2h-2zM290 560h2v2h-2zM150 569h2v2h-2zM272 491h2v2h-2zM311 529h2v2h-2zM293 526h2v2h-2zM286 560h2v2h-2zM239 511h2v2h-2zM283 513h2v2h-2zM299 566h2v2h-2zM246 510h2v2h-2zM289 516h2v2h-2zM244 500h2v2h-2zM128 519h2v2h-2zM295 558h2v2h-2zM111 567h2v2h-2zM120 525h2v2h-2zM192 553h2v2h-2zM236 568h2v2h-2zM170 448h2v2h-2zM301 572h2v2h-2zM293 511h2v2h-2zM287 541h2v2h-2zM229 509h2v2h-2zM264 543h2v2h-2zM245 529h2v2h-2zM204 482h2v2h-2zM305 556h2v2h-2zM249 512h2v2h-2zM286 518h2v2h-2z"/><path fill="#0000ff" d="M196 545h2v2h-2zM230 500h2v2h-2zM284 533h2v2h-2zM241 550h2v2h-2zM269 512h2v2h-2zM281 493h2v2h-2zM286 498h2v2h-2zM173 567h2v2h-2zM193 549h2v2h-2zM107 575h2v2h-2zM260 493h2v2h-2zM274 551h2v2h-2zM137 502h2v2h-2zM274 494h2v2h-2zM238 528h2v2h-2zM294 560h2v2h-2zM277 495h2v2h-2zM265 533h2v2h-2zM281 543h2v2h-2zM142 588h2v2h-2zM289 564h2v2h-2zM212 552h2v2h-2zM281 546h2v2h-2zM204 461h2v2h-2zM117 578h2v2h-2zM280 604h2v2h-2zM260 571h2v2h-2zM293 540h2v2h-2zM236 450h2v2h-2zM268 504h2v2h-2zM107 533h2v2h-2zM238 572h2v2h-2zM91 585h2v2h-2zM233 397h2v2h-2zM245 499h2v2h-2zM140 553h2v2h-2zM288 523h2v2h-2zM153 543h2v2h-2zM125 561h2v2h-2zM199 552h2v2h-2zM240 492h2v2h-2zM288 556h2v2h-2zM254 488h2v2h-2zM242 555h2v2h-2zM273 498h2v2h-2zM293 541h2v2h-2zM216 568h2v2h-2zM80 556h2v2h-2zM260 485h2v2h-2zM275 482h2v2h-2zM257 528h2v2h-2zM190 550h2v2h-2zM147 477h2v2h-2zM280 541h2v2h-2zM282 507h2v2h-2zM253 560h2v2h-2zM295 539h2v2h-2zM293 548h2v2h-2zM251 533h2v2h-2zM275 533h2v2h-2zM300 550h2v2h-2zM245 502h2v2h-2zM273 553h2v2h-2zM279 521h2v2h-2zM285 511h2v2h-2zM79 585h2v2h-2zM261 561h2v2h-2zM292 517h2v2h-2zM275 561h2v2h-2zM280 579h2v2h-2zM282 537h2v2h-2zM249 525h2v2h-2zM246 509h2v2h-2zM303 552h2v2h-2zM276 488h2v2h-2zM285 527h2v2h-2zM152 561h2v2h-2zM266 517h2v2h-2zM276 505h2v2h-2zM256 512h2v2h-2zM243 544h2v2h-2zM265 498h2v2h-2zM135 530h2v2h-2zM243 553h2v2h-2zM265 556h2v2h-2zM289 548h2v2h-2zM175 547h2v2h-2zM174 541h2v2h-2zM277 485h2v2h-2zM246 564h2v2h-2zM276 541h2v2h-2zM274 532h2v2h-2zM286 578h2v2h-2zM262 545h2v2h-2zM147 543h2v2h-2zM269 557h2v2h-2zM266 503h2v2h-2zM270 521h2v2h-2zM283 532h2v2h-2zM291 540h2v2h-2zM285 570h2v2h-2zM94 551h2v2h-2zM177 569h2v2h-2zM190 549h2v2h-2zM283 521h2v2h-2zM279 574h2v2h-2zM282 523h2v2h-2zM240 466h2v2h-2zM215 532h2v2h-2zM192 512h2v2h-2zM233 561h2v2h-2zM176 543h2v2h-2zM168 530h2v2h-2zM280 533h2v2h-2zM249 498h2v2h-2zM268 515h2v2h-2zM292 530h2v2h-2zM280 553h2v2h-2zM209 527h2v2h-2zM294 523h2v2h-2zM276 507h2v2h-2zM106 493h2v2h-2zM185 542h2v2h-2zM275 563h2v2h-2zM247 539h2v2h-2zM271 536h2v2h-2zM294 561h2v2h-2zM279 548h2v2h-2zM243 539h2v2h-2zM261 516h2v2h-2zM190 478h2v2h-2zM250 536h2v2h-2zM261 556h2v2h-2zM193 536h2v2h-2zM268 561h2v2h-2zM271 488h2v2h-2zM213 465h2v2h-2zM266 561h2v2h-2zM268 524h2v2h-2zM262 492h2v2h-2zM290 551h2v2h-2zM206 516h2v2h-2zM289 555h2v2h-2zM263 525h2v2h-2zM281 503h2v2h-2zM273 535h2v2h-2zM285 544h2v2h-2zM260 544h2v2h-2zM154 539h2v2h-2zM279 559h2v2h-2zM278 493h2v2h-2zM281 526h2v2h-2zM274 526h2v2h-2zM283 495h2v2h-2zM172 473h2v2h-2zM273 556h2v2h-2zM183 543h2v2h-2zM279 533h2v2h-2zM244 563h2v2h-2zM298 552h2v2h-2zM169 550h2v2h-2zM271 570h2v2h-2zM256 529h2v2h-2zM198 479h2v2h-2zM281 554h2v2h-2zM255 536h2v2h-2zM287 577h2v2h-2zM269 507h2v2h-2zM294 548h2v2h-2zM176 558h2v2h-2zM290 528h2v2h-2zM185 549h2v2h-2zM234 434h2v2h-2zM291 528h2v2h-2zM248 516h2v2h-2zM294 558h2v2h-2zM270 502h2v2h-2zM271 537h2v2h-2zM279 533h2v2h-2zM276 543h2v2h-2zM193 526h2v2h-2zM274 494h2v2h-2zM294 581h2v2h-2zM199 507h2v2h-2zM303 545h2v2h-2zM188 539h2v2h-2zM181 489h2v2h-2zM254 540h2v2h-2zM122 565h2v2h-2zM198 527h2v2h-2zM296 543h2v2h-2zM278 550h2v2h-2zM292 521h2v2h-2zM201 459h2v2h-2zM274 489h2v2h-2zM109 560h2v2h-2zM193 531h2v2h-2zM239 468h2v2h-2zM195 558h2v2h-2zM282 534h2v2h-2zM259 567h2v2h-2zM279 530h2v2h-2zM269 526h2v2h-2zM261 597h2v2h-2zM284 530h2v2h-2zM264 481h2v2h-2zM281 519h2v2h-2zM161 529h2v2h-2zM285 518h2v2h-2zM184 531h2v2h-2zM261 563h2v2h-2zM257 504h2v2h-2zM301 540h2v2h-2zM166 504h2v2h-2zM287 542h2v2h-2zM262 498h2v2h-2zM280 534h2v2h-2zM287 560h2v2h-2zM197 532h2v2h-2zM231 549h2v2h-2zM291 528h2v2h-2zM193 532h2v2h-2zM220 528h2v2h-2zM152 532h2v2h-2zM285 541h2v2h-2zM144 503h2v2h-2zM305 545h2v2h-2zM173 428h2v2h-2zM284 506h2v2h-2zM242 515h2v2h-2zM242 566h2v2h-2zM300 577h2v2h-2zM105 544h2v2h-2z"/><path fill="#000000" d="M73 538h2v2h-2zM237 467h2v2h-2zM235 515h2v2h-2zM181 524h2v2h-2zM181 505h2v2h-2zM84 541h2v2h-2zM224 490h2v2h-2zM71 542h2v2h-2zM164 557h2v2h-2zM278 545h2v2h-2zM197 453h2v2h-2zM241 418h2v2h-2z"/><path fill="#ffff00" d="M226 387h2v2h-2zM250 522h2v2h-2zM210 386h2v2h-2zM271 527h2v2h-2zM257 473h2v2h-2zM239 362h2v2h-2zM242 484h2v2h-2zM278 532h2v2h-2zM260 453h2v2h-2zM192 497h2v2h-2zM201 452h2v2h-2zM415 491h2v2h-2zM292 536h2v2h-2zM383 545h2v2h-2zM211 489h2v2h-2zM282 527h2v2h-2zM304 376h2v2h-2zM202 390h2v2h-2zM287 470h2v2h-2zM195 444h2v2h-2zM272 544h2v2h-2zM204 462h2v2h-2zM222 537h2v2h-2zM265 502h2v2h-2zM222 479h2v2h-2zM398 467h2v2h-2zM290 481h2v2h-2zM218 503h2v2h-2zM338 439h2v2h-2zM225 453h2v2h-2zM249 508h2v2h-2zM285 492h2v2h-2zM296 477h2v2h-2zM274 485h2v2h-2zM376 491h2v2h-2zM207 279h2v2h-2zM237 438h2v2h-2zM261 456h2v2h-2zM416 441h2v2h-2zM233 549h2v2h-2zM268 486h2v2h-2zM353 507h2v2h-2zM238 503h2v2h-2zM281 505h2v2h-2zM347 468h2v2h-2zM286 566h2v2h-2zM264 492h2v2h-2zM406 472h2v2h-2zM331 447h2v2h-2zM258 456h2v2h-2zM345 465h2v2h-2zM196 484h2v2h-2zM360 441h2v2h-2zM233 498h2v2h-2zM249 466h2v2h-2zM278 489h2v2h-2zM291 504h2v2h-2zM284 511h2v2h-2zM289 446h2v2h-2zM312 518h2v2h-2zM358 472h2v2h-2zM357 522h2v2h-2zM256 446h2v2h-2zM249 513h2v2h-2zM292 464h2v2h-2zM262 500h2v2h-2zM393 533h2v2h-2zM361 496h2v2h-2zM341 506h2v2h-2zM272 467h2v2h-2zM322 423h2v2h-2zM265 503h2v2h-2zM111 460h2v2h-2zM244 496h2v2h-2zM224 266h2v2h-2zM257 536h2v2h-2zM293 426h2v2h-2zM228 419h2v2h-2zM349 526h2v2h-2zM379 459h2v2h-2zM282 581h2v2h-2zM217 442h2v2h-2zM186 459h2v2h-2zM312 511h2v2h-2zM199 476h2v2h-2zM243 416h2v2h-2zM293 496h2v2h-2zM341 479h2v2h-2zM372 413h2v2h-2zM278 538h2v2h-2zM248 341h2v2h-2zM258 478h2v2h-2zM233 360h2v2h-2zM366 465h2v2h-2zM381 485h2v2h-2zM254 452h2v2h-2zM346 501h2v2h-2zM258 432h2v2h-2zM281 544h2v2h-2zM319 421h2v2h-2zM234 554h2v2h-2zM265 468h2v2h-2zM257 471h2v2h-2zM209 461h2v2h-2zM205 397h2v2h-2zM241 443h2v2h-2zM172 102h2v2h-2zM300 503h2v2h-2zM264 493h2v2h-2zM256 523h2v2h-2zM286 570h2v2h-2zM288 518h2v2h-2zM352 459h2v2h-2zM318 419h2v2h-2zM211 451h2v2h-2zM425 486h2v2h-2zM244 455h2v2h-2zM265 429h2v2h-2zM293 531h2v2h-2z"/><path fill="#ff0000" d="M316 568h2v2h-2zM117 529h2v2h-2zM311 531h2v2h-2zM313 537h2v2h-2zM303 526h2v2h-2zM214 503h2v2h-2zM291 480h2v2h-2zM153 410h2v2h-2zM169 512h2v2h-2zM83 538h2v2h-2zM307 524h2v2h-2zM311 570h2v2h-2zM295 502h2v2h-2zM278 501h2v2h-2zM87 553h2v2h-2zM274 555h2v2h-2zM106 554h2v2h-2zM214 490h2v2h-2zM166 517h2v2h-2zM285 505h2v2h-2zM247 489h2v2h-2zM217 504h2v2h-2zM166 489h2v2h-2zM225 498h2v2h-2zM246 459h2v2h-2zM209 528h2v2h-2zM266 511h2v2h-2zM153 543h2v2h-2zM306 550h2v2h-2zM88 455h2v2h-2zM295 513h2v2h-2zM230 482h2v2h-2zM305 574h2v2h-2zM309 534h2v2h-2zM285 506h2v2h-2zM304 567h2v2h-2zM289 494h2v2h-2zM266 526h2v2h-2zM273 542h2v2h-2zM238 549h2v2h-2zM254 526h2v2h-2zM149 531h2v2h-2zM271 546h2v2h-2zM229 526h2v2h-2zM153 514h2v2h-2zM234 494h2v2h-2zM185 521h2v2h-2zM297 594h2v2h-2zM103 537h2v2h-2zM228 535h2v2h-2zM222 490h2v2h-2zM273 471h2v2h-2zM253 532h2v2h-2zM224 512h2v2h-2zM308 569h2v2h-2zM273 489h2v2h-2zM190 492h2v2h-2zM270 555h2v2h-2zM262 556h2v2h-2zM134 574h2v2h-2zM111 525h2v2h-2zM302 498h2v2h-2zM292 471h2v2h-2zM203 521h2v2h-2zM193 501h2v2h-2zM172 511h2v2h-2zM235 502h2v2h-2zM276 561h2v2h-2zM169 503h2v2h-2zM194 571h2v2h-2zM243 523h2v2h-2zM311 543h2v2h-2zM128 534h2v2h-2zM198 569h2v2h-2zM141 570h2v2h-2zM301 513h2v2h-2zM294 500h2v2h-2zM313 537h2v2h-2zM306 529h2v2h-2zM210 558h2v2h-2zM295 521h2v2h-2zM143 552h2v2h-2zM239 510h2v2h-2zM251 478h2v2h-2zM304 518h2v2h-2zM232 490h2v2h-2zM214 509h2v2h-2zM154 532h2v2h-2zM231 565h2v2h-2zM287 496h2v2h-2zM305 532h2v2h-2zM309 572h2v2h-2zM310 525h2v2h-2zM184 566h2v2h-2zM313 536h2v2h-2zM311 558h2v2h-2zM243 550h2v2h-2zM243 550h2v2h-2zM297 524h2v2h-2zM260 520h2v2h-2zM268 531h2v2h-2zM305 518h2v2h-2zM251 557h2v2h-2zM204 499h2v2h-2zM239 500h2v2h-2zM253 504h2v2h-2z"/><path fill="#00ff00" d="M223 561h2v2h-2zM290 530h2v2h-2zM300 528h2v2h-2zM296 523h2v2h-2zM124 536h2v2h-2zM275 497h2v2h-2zM247 493h2v2h-2zM257 557h2v2h-2zM219 513h2v2h-2zM268 521h2v2h-2zM298 575h2v2h-2zM237 514h2v2h-2zM250 487h2v2h-2zM255 503h2v2h-2zM231 511h2v2h-2zM276 540h2v2h-2zM308 538h2v2h-2zM296 563h2v2h-2zM281 505h2v2h-2zM175 565h2v2h-2zM281 516h2v2h-2zM301 528h2v2h-2zM205 484h2v2h-2zM93 499h2v2h-2zM255 534h2v2h-2zM215 517h2v2h-2zM227 499h2v2h-2zM296 541h2v2h-2zM307 544h2v2h-2zM292 541h2v2h-2zM238 509h2v2h-2zM255 570h2v2h-2zM226 491h2v2h-2zM294 519h2v2h-2zM147 531h2v2h-2zM111 552h2v2h-2zM308 553h2v2h-2zM251 553h2v2h-2zM285 508h2v2h-2zM274 448h2v2h-2zM273 522h2v2h-2zM181 568h2v2h-2zM106 552h2v2h-2zM265 560h2v2h-2zM265 514h2v2h-2zM296 544h2v2h-2zM205 498h2v2h-2zM239 487h2v2h-2zM191 548h2v2h-2zM298 528h2v2h-2zM190 532h2v2h-2zM239 484h2v2h-2zM271 499h2v2h-2zM309 536h2v2h-2zM224 517h2v2h-2zM305 555h2v2h-2zM267 515h2v2h-2zM196 565h2v2h-2zM75 523h2v2h-2zM283 556h2v2h-2zM268 548h2v2h-2zM111 534h2v2h-2zM222 487h2v2h-2zM283 504h2v2h-2zM191 545h2v2h-2zM243 481h2v2h-2zM316 535h2v2h-2zM229 538h2v2h-2zM299 538h2v2h-2zM247 468h2v2h-2zM283 505h2v2h-2zM99 539h2v2h-2zM267 539h2v2h-2zM305 537h2v2h-2zM294 531h2v2h-2zM233 521h2v2h-2zM223 527h2v2h-2zM268 529h2v2h-2zM254 490h2v2h-2zM304 544h2v2h-2zM211 503h2v2h-2zM218 551h2v2h-2zM242 456h2v2h-2zM295 548h2v2h-2zM85 518h2v2h-2zM265 510h2v2h-2zM219 515h2v2h-2zM223 524h2v2h-2zM152 525h2v2h-2zM243 548h2v2h-2zM287 560h2v2h-2zM181 531h2v2h-2zM307 569h2v2h-2zM253 492h2v2h-2zM128 537h2v2h-2zM114 570h2v2h-2zM274 467h2v2h-2zM291 573h2v2h-2zM249 484h2v2h-2zM279 513h2v2h-2zM149 550h2v2h-2zM226 526h2v2h-2zM217 492h2v2h-2zM253 541h2v2h-2zM308 545h2v2h-2zM307 546h2v2h-2zM284 523h2v2h-2zM305 545h2v2h-2zM234 501h2v2h-2zM290 516h2v2h-2zM256 509h2v2h-2zM286 556h2v2h-2zM308 554h2v2h-2zM156 484h2v2h-2zM268 429h2v2h-2zM97 547h2v2h-2zM300 560h2v2h-2zM236 520h2v2h-2zM295 528h2v2h-2zM257 560h2v2h-2zM205 518h2v2h-2zM238 507h2v2h-2zM293 557h2v2h-2zM197 524h2v2h-2zM291 516h2v2h-2zM240 558h2v2h-2zM201 571h2v2h-2zM230 513h2v2h-2zM297 571h2v2h-2zM237 497h2v2h-2zM152 553h2v2h-2zM105 528h2v2h-2zM277 536h2v2h-2zM290 526h2v2h-2zM294 517h2v2h-2zM197 501h2v2h-2zM234 462h2v2h-2zM288 513h2v2h-2zM291 531h2v2h-2zM264 496h2v2h-2zM292 566h2v2h-2zM252 518h2v2h-2zM253 494h2v2h-2zM170 545h2v2h-2zM199 520h2v2h-2zM117 554h2v2h-2zM246 554h2v2h-2zM299 531h2v2h-2z"/><path fill="#0000ff" d="M284 528h2v2h-2zM280 540h2v2h-2zM239 547h2v2h-2zM290 579h2v2h-2zM99 566h2v2h-2zM236 522h2v2h-2zM257 551h2v2h-2zM287 520h2v2h-2zM212 534h2v2h-2zM268 514h2v2h-2zM140 365h2v2h-2zM186 487h2v2h-2zM204 501h2v2h-2zM111 493h2v2h-2zM271 526h2v2h-2zM171 562h2v2h-2zM272 513h2v2h-2zM193 537h2v2h-2zM288 566h2v2h-2zM240 569h2v2h-2zM235 446h2v2h-2zM245 524h2v2h-2zM280 559h2v2h-2zM244 569h2v2h-2zM225 477h2v2h-2zM270 570h2v2h-2zM131 552h2v2h-2zM282 525h2v2h-2zM248 546h2v2h-2zM257 524h2v2h-2zM139 532h2v2h-2zM222 539h2v2h-2zM289 549h2v2h-2zM304 553h2v2h-2zM299 555h2v2h-2zM284 538h2v2h-2zM161 584h2v2h-2zM188 587h2v2h-2zM284 519h2v2h-2zM169 481h2v2h-2zM238 559h2v2h-2zM255 570h2v2h-2zM146 533h2v2h-2zM268 503h2v2h-2zM279 558h2v2h-2zM221 543h2v2h-2zM279 512h2v2h-2zM163 493h2v2h-2zM270 540h2v2h-2zM224 493h2v2h-2zM254 509h2v2h-2zM279 556h2v2h-2zM225 569h2v2h-2zM272 519h2v2h-2zM283 525h2v2h-2zM269 536h2v2h-2zM108 543h2v2h-2zM288 543h2v2h-2zM266 524h2v2h-2zM259 484h2v2h-2zM183 533h2v2h-2zM176 511h2v2h-2zM285 539h2v2h-2zM271 525h2v2h-2zM187 584h2v2h-2zM232 495h2v2h-2zM206 511h2v2h-2zM279 512h2v2h-2zM237 547h2v2h-2zM282 534h2v2h-2zM302 561h2v2h-2zM282 500h2v2h-2zM241 559h2v2h-2zM196 516h2v2h-2zM281 550h2v2h-2zM193 526h2v2h-2zM275 536h2v2h-2zM273 490h2v2h-2zM187 572h2v2h-2zM270 497h2v2h-2zM174 567h2v2h-2zM205 532h2v2h-2zM285 535h2v2h-2zM269 567h2v2h-2zM203 467h2v2h-2zM167 548h2v2h-2zM183 551h2v2h-2zM248 453h2v2h-2zM268 450h2v2h-2zM212 515h2v2h-2zM270 562h2v2h-2zM261 466h2v2h-2zM287 513h2v2h-2zM218 560h2v2h-2zM309 556h2v2h-2zM273 508h2v2h-2zM260 487h2v2h-2zM287 558h2v2h-2zM215 539h2v2h-2zM268 511h2v2h-2zM266 453h2v2h-2zM277 527h2v2h-2zM269 534h2v2h-2zM267 519h2v2h-2zM278 495h2v2h-2zM169 510h2v2h-2zM280 487h2v2h-2zM264 498h2v2h-2zM254 514h2v2h-2zM266 551h2v2h-2zM278 510h2v2h-2zM185 512h2v2h-2zM287 541h2v2h-2zM283 533h2v2h-2zM288 561h2v2h-2zM296 531h2v2h-2zM237 559h2v2h-2zM278 522h2v2h-2zM296 570h2v2h-2zM152 538h2v2h-2zM273 543h2v2h-2zM237 547h2v2h-2zM238 548h2v2h-2zM258 559h2v2h-2zM301 553h2v2h-2zM286 518h2v2h-2zM270 478h2v2h-2zM254 491h2v2h-2zM271 521h2v2h-2zM288 553h2v2h-2zM132 549h2v2h-2zM274 536h2v2h-2zM279 584h2v2h-2zM250 528h2v2h-2zM279 607h2v2h-2zM277 532h2v2h-2zM152 459h2v2h-2zM249 559h2v2h-2zM263 506h2v2h-2zM292 548h2v2h-2zM179 499h2v2h-2zM208 548h2v2h-2zM281 481h2v2h-2zM274 533h2v2h-2zM282 570h2v2h-2zM204 547h2v2h-2zM268 535h2v2h-2zM284 551h2v2h-2zM264 518h2v2h-2zM266 510h2v2h-2zM202 530h2v2h-2zM269 567h2v2h-2zM260 531h2v2h-2zM290 526h2v2h-2zM291 549h2v2h-2zM245 540h2v2h-2zM267 539h2v2h-2zM302 536h2v2h-2zM289 530h2v2h-2zM248 562h2v2h-2zM119 551h2v2h-2zM293 553h2v2h-2zM295 528h2v2h-2zM132 568h2v2h-2zM235 532h2v2h-2zM293 534h2v2h-2zM107 537h2v2h-2zM148 534h2v2h-2zM274 477h2v2h-2zM283 548h2v2h-2zM307 569h2v2h-2zM250 498h2v2h-2zM274 539h2v2h-2zM174 566h2v2h-2zM236 558h2v2h-2zM285 575h2v2h-2zM165 501h2v2h-2zM290 581h2v2h-2zM234 569h2v2h-2zM192 545h2v2h-2zM142 530h2v2h-2zM271 558h2v2h-2zM265 519h2v2h-2zM142 518h2v2h-2zM144 549h2v2h-2zM257 538h2v2h-2zM237 560h2v2h-2zM234 516h2v2h-2zM285 584h2v2h-2zM291 522h2v2h-2zM250 485h2v2h-2zM281 549h2v2h-2zM294 518h2v2h-2zM274 499h2v2h-2zM270 520h2v2h-2zM291 547h2v2h-2zM238 538h2v2h-2zM267 560h2v2h-2zM287 525h2v2h-2zM200 550h2v2h-2zM270 535h2v2h-2zM94 537h2v2h-2zM306 533h2v2h-2zM87 553h2v2h-2zM160 556h2v2h-2zM284 520h2v2h-2zM279 571h2v2h-2zM278 545h2v2h-2zM247 561h2v2h-2zM290 534h2v2h-2zM247 493h2v2h-2zM192 570h2v2h-2zM300 524h2v2h-2zM264 517h2v2h-2zM216 555h2v2h-2zM189 536h2v2h-2zM195 523h2v2h-2zM235 432h2v2h-2zM242 508h2v2h-2zM242 495h2v2h-2zM283 551h2v2h-2zM284 530h2v2h-2zM213 530h2v2h-2zM205 549h2v2h-2zM165 431h2v2h-2zM262 522h2v2h-2zM234 540h2v2h-2zM264 565h2v2h-2zM276 531h2v2h-2zM212 480h2v2h-2zM278 539h2v2h-2zM226 524h2v2h-2zM197 540h2v2h-2zM187 557h2v2h-2zM282 565h2v2h-2zM223 522h2v2h-2zM275 530h2v2h-2z"/><path fill="#000000" d="M159 554h2v2h-2zM265 454h2v2h-2zM138 493h2v2h-2zM263 488h2v2h-2zM276 471h2v2h-2zM230 418h2v2h-2zM215 494h2v2h-2zM229 527h2v2h-2zM217 515h2v2h-2zM250 473h2v2h-2z"/><path fill="#ffff00" d="M310 448h2v2h-2zM179 379h2v2h-2zM297 467h2v2h-2zM228 502h2v2h-2zM270 562h2v2h-2zM253 516h2v2h-2zM301 471h2v2h-2zM317 485h2v2h-2zM335 419h2v2h-2zM307 495h2v2h-2zM251 502h2v2h-2zM298 511h2v2h-2zM393 500h2v2h-2zM228 523h2v2h-2zM225 503h2v2h-2zM263 474h2v2h-2zM315 450h2v2h-2zM380 442h2v2h-2zM234 516h2v2h-2zM202 452h2v2h-2zM358 458h2v2h-2zM260 483h2v2h-2zM244 424h2v2h-2zM201 517h2v2h-2zM209 519h2v2h-2zM268 550h2v2h-2zM172 518h2v2h-2zM379 490h2v2h-2zM254 503h2v2h-2zM199 489h2v2h-2zM242 449h2v2h-2zM233 479h2v2h-2zM292 434h2v2h-2zM306 483h2v2h-2zM256 411h2v2h-2zM243 465h2v2h-2zM257 494h2v2h-2zM355 442h2v2h-2zM349 484h2v2h-2zM268 400h2v2h-2zM269 566h2v2h-2zM261 466h2v2h-2zM314 492h2v2h-2zM272 382h2v2h-2zM321 455h2v2h-2zM232 460h2v2h-2zM317 515h2v2h-2zM264 477h2v2h-2zM414 458h2v2h-2zM206 442h2v2h-2zM312 427h2v2h-2zM276 494h2v2h-2zM267 483h2v2h-2zM301 505h2v2h-2zM254 511h2v2h-2zM274 481h2v2h-2zM120 228h2v2h-2zM252 491h2v2h-2zM265 432h2v2h-2zM316 461h2v2h-2zM290 535h2v2h-2zM302 449h2v2h-2zM278 497h2v2h-2zM235 387h2v2h-2zM220 472h2v2h-2zM276 440h2v2h-2zM222 489h2v2h-2zM252 456h2v2h-2zM405 524h2v2h-2zM298 373h2v2h-2zM330 337h2v2h-2zM290 542h2v2h-2zM229 477h2v2h-2zM235 365h2v2h-2zM360 499h2v2h-2zM252 453h2v2h-2zM361 402h2v2h-2zM187 300h2v2h-2zM246 440h2v2h-2zM316 432h2v2h-2zM311 419h2v2h-2zM210 439h2v2h-2zM408 467h2v2h-2zM200 463h2v2h-2zM255 467h2v2h-2zM245 461h2v2h-2zM341 526h2v2h-2zM275 348h2v2h-2zM213 412h2v2h-2zM167 366h2v2h-2zM260 432h2v2h-2zM277 516h2v2h-2zM159 106h2v2h-2zM111 457h2v2h-2zM262 451h2v2h-2zM229 518h2v2h-2zM239 502h2v2h-2zM217 452h2v2h-2zM272 504h2v2h-2zM261 484h2v2h-2zM187 251h2v2h-2zM253 504h2v2h-2zM245 518h2v2h-2zM259 494h2v2h-2zM279 535h2v2h-2zM339 514h2v2h-2zM174 517h2v2h-2zM287 531h2v2h-2zM258 531h2v2h-2zM335 500h2v2h-2zM162 404h2v2h-2zM254 453h2v2h-2zM280 468h2v2h-2z"/><path fill="#ff0000" d="M253 505h2v2h-2zM179 524h2v2h-2zM274 475h2v2h-2zM151 583h2v2h-2zM107 535h2v2h-2zM251 554h2v2h-2zM250 511h2v2h-2zM172 531h2v2h-2zM169 557h2v2h-2zM311 519h2v2h-2zM215 547h2v2h-2zM253 548h2v2h-2zM193 531h2v2h-2zM313 516h2v2h-2zM308 543h2v2h-2zM190 516h2v2h-2zM201 548h2v2h-2zM278 557h2v2h-2zM298 529h2v2h-2zM273 518h2v2h-2zM140 563h2v2h-2zM229 549h2v2h-2zM139 540h2v2h-2zM266 583h2v2h-2zM233 499h2v2h-2zM206 546h2v2h-2zM296 508h2v2h-2zM86 467h2v2h-2zM254 531h2v2h-2zM213 557h2v2h-2zM267 452h2v2h-2zM306 545h2v2h-2zM274 557h2v2h-2zM306 542h2v2h-2zM299 592h2v2h-2zM160 476h2v2h-2zM314 565h2v2h-2zM277 504h2v2h-2zM260 517h2v2h-2zM257 490h2v2h-2zM255 510h2v2h-2zM235 532h2v2h-2zM99 564h2v2h-2zM260 511h2v2h-2zM212 556h2v2h-2zM227 570h2v2h-2zM204 524h2v2h-2zM210 507h2v2h-2zM217 522h2v2h-2zM300 560h2v2h-2zM173 510h2v2h-2zM205 563h2v2h-2zM284 499h2v2h-2zM297 504h2v2h-2zM221 570h2v2h-2zM309 567h2v2h-2zM268 463h2v2h-2zM113 500h2v2h-2zM248 498h2v2h-2zM257 546h2v2h-2zM114 474h2v2h-2zM315 550h2v2h-2zM307 501h2v2h-2zM172 583h2v2h-2zM315 526h2v2h-2zM307 549h2v2h-2zM307 539h2v2h-2zM265 523h2v2h-2zM281 478h2v2h-2zM226 517h2v2h-2zM185 581h2v2h-2zM259 561h2v2h-2zM310 581h2v2h-2zM269 513h2v2h-2zM325 571h2v2h-2zM145 560h2v2h-2zM204 553h2v2h-2zM244 560h2v2h-2zM180 579h2v2h-2zM308 543h2v2h-2zM306 559h2v2h-2zM308 542h2v2h-2zM314 563h2v2h-2zM228 522h2v2h-2zM234 498h2v2h-2zM157 533h2v2h-2zM317 534h2v2h-2zM247 539h2v2h-2zM305 546h2v2h-2zM161 555h2v2h-2zM233 500h2v2h-2zM313 540h2v2h-2zM204 494h2v2h-2zM311 529h2v2h-2zM293 517h2v2h-2zM174 468h2v2h-2zM235 502h2v2h-2zM297 529h2v2h-2zM75 546h2v2h-2zM254 499h2v2h-2zM173 526h2v2h-2zM205 558h2v2h-2z"/><path fill="#00ff00" d="M248 573h2v2h-2zM219 481h2v2h-2zM273 544h2v2h-2zM293 556h2v2h-2zM267 520h2v2h-2zM232 530h2v2h-2zM239 479h2v2h-2zM266 543h2v2h-2zM186 541h2v2h-2zM297 537h2v2h-2zM302 567h2v2h-2zM267 537h2v2h-2zM215 530h2v2h-2zM299 579h2v2h-2zM302 538h2v2h-2zM276 519h2v2h-2zM267 555h2v2h-2zM305 533h2v2h-2zM302 558h2v2h-2zM312 551h2v2h-2zM294 543h2v2h-2zM204 494h2v2h-2zM179 569h2v2h-2zM258 527h2v2h-2zM290 542h2v2h-2zM238 521h2v2h-2zM243 551h2v2h-2zM301 521h2v2h-2zM245 484h2v2h-2zM276 496h2v2h-2zM241 556h2v2h-2zM233 489h2v2h-2zM250 529h2v2h-2zM90 503h2v2h-2zM281 523h2v2h-2zM227 489h2v2h-2zM265 480h2v2h-2zM206 525h2v2h-2zM286 515h2v2h-2zM294 534h2v2h-2zM288 502h2v2h-2zM253 536h2v2h-2zM308 548h2v2h-2zM280 497h2v2h-2zM208 519h2v2h-2zM304 553h2v2h-2zM154 506h2v2h-2zM267 520h2v2h-2zM305 532h2v2h-2zM267 520h2v2h-2zM207 526h2v2h-2zM293 507h2v2h-2zM288 561h2v2h-2zM231 526h2v2h-2zM307 550h2v2h-2zM293 562h2v2h-2zM230 479h2v2h-2zM193 533h2v2h-2zM289 507h2v2h-2zM290 496h2v2h-2zM271 519h2v2h-2zM290 538h2v2h-2zM181 551h2v2h-2zM270 539h2v2h-2zM249 566h2v2h-2zM267 535h2v2h-2zM279 483h2v2h-2zM296 542h2v2h-2zM228 491h2v2h-2zM241 519h2v2h-2zM230 514h2v2h-2zM301 546h2v2h-2zM270 525h2v2h-2zM267 533h2v2h-2zM91 560h2v2h-2zM201 541h2v2h-2zM251 444h2v2h-2zM186 545h2v2h-2zM286 507h2v2h-2zM205 519h2v2h-2zM289 544h2v2h-2zM248 487h2v2h-2zM242 544h2v2h-2zM300 539h2v2h-2zM298 543h2v2h-2zM252 483h2v2h-2zM307 528h2v2h-2zM230 493h2v2h-2zM303 545h2v2h-2zM295 536h2v2h-2zM303 563h2v2h-2zM278 544h2v2h-2zM294 504h2v2h-2zM265 498h2v2h-2zM162 589h2v2h-2zM181 588h2v2h-2zM268 477h2v2h-2zM189 483h2v2h-2zM252 476h2v2h-2zM255 506h2v2h-2zM216 513h2v2h-2zM286 511h2v2h-2zM266 495h2v2h-2zM295 543h2v2h-2zM197 490h2v2h-2zM203 503h2v2h-2zM117 582h2v2h-2zM295 554h2v2h-2zM238 542h2v2h-2zM300 554h2v2h-2zM284 539h2v2h-2zM283 496h2v2h-2zM246 523h2v2h-2zM274 520h2v2h-2zM240 492h2v2h-2zM232 499h2v2h-2zM303 538h2v2h-2zM207 498h2v2h-2zM262 499h2v2h-2zM297 556h2v2h-2zM304 513h2v2h-2zM157 573h2v2h-2zM305 563h2v2h-2zM295 571h2v2h-2zM279 518h2v2h-2zM307 559h2v2h-2zM292 507h2v2h-2zM275 504h2v2h-2zM302 563h2v2h-2zM270 530h2v2h-2zM202 542h2v2h-2zM283 496h2v2h-2zM233 542h2v2h-2zM305 572h2v2h-2zM271 513h2v2h-2zM279 478h2v2h-2zM307 560h2v2h-2zM276 561h2v2h-2zM295 539h2v2h-2zM155 511h2v2h-2zM273 541h2v2h-2zM300 584h2v2h-2zM308 532h2v2h-2zM302 559h2v2h-2zM283 512h2v2h-2zM254 509h2v2h-2zM227 487h2v2h-2z"/><path fill="#0000ff" d="M244 475h2v2h-2zM265 523h2v2h-2zM280 555h2v2h-2zM287 570h2v2h-2zM256 558h2v2h-2zM276 518h2v2h-2zM271 551h2v2h-2zM303 563h2v2h-2zM283 537h2v2h-2zM295 538h2v2h-2zM91 550h2v2h-2zM284 473h2v2h-2zM282 547h2v2h-2zM294 519h2v2h-2zM263 565h2v2h-2zM262 501h2v2h-2zM292 580h2v2h-2zM279 527h2v2h-2zM207 486h2v2h-2zM73 549h2v2h-2zM277 554h2v2h-2zM192 506h2v2h-2zM262 497h2v2h-2zM152 551h2v2h-2zM284 558h2v2h-2zM277 535h2v2h-2zM106 563h2v2h-2zM283 550h2v2h-2zM185 554h2v2h-2zM278 502h2v2h-2zM284 532h2v2h-2zM293 518h2v2h-2zM276 493h2v2h-2zM230 539h2v2h-2zM282 534h2v2h-2zM279 487h2v2h-2zM246 537h2v2h-2zM282 551h2v2h-2zM264 536h2v2h-2zM211 524h2v2h-2zM238 574h2v2h-2zM150 549h2v2h-2zM240 503h2v2h-2zM229 553h2v2h-2zM277 540h2v2h-2zM186 569h2v2h-2zM289 546h2v2h-2zM299 546h2v2h-2zM160 522h2v2h-2zM266 569h2v2h-2zM133 549h2v2h-2zM283 524h2v2h-2zM277 536h2v2h-2zM217 545h2v2h-2zM276 531h2v2h-2zM291 557h2v2h-2zM100 526h2v2h-2zM263 537h2v2h-2zM279 465h2v2h-2zM294 528h2v2h-2zM250 566h2v2h-2zM228 480h2v2h-2zM149 525h2v2h-2zM283 492h2v2h-2zM214 565h2v2h-2zM253 571h2v2h-2zM269 585h2v2h-2zM294 547h2v2h-2zM274 521h2v2h-2zM271 521h2v2h-2zM239 538h2v2h-2zM279 555h2v2h-2zM290 521h2v2h-2zM284 544h2v2h-2zM168 554h2v2h-2zM186 552h2v2h-2zM279 565h2v2h-2zM291 529h2v2h-2zM250 509h2v2h-2zM241 516h2v2h-2zM282 548h2v2h-2zM245 555h2v2h-2zM286 527h2v2h-2zM235 527h2v2h-2zM281 518h2v2h-2zM89 491h2v2h-2zM127 529h2v2h-2zM234 512h2v2h-2zM107 548h2v2h-2zM222 555h2v2h-2zM272 560h2v2h-2zM219 544h2v2h-2zM140 552h2v2h-2zM280 557h2v2h-2zM282 551h2v2h-2zM250 541h2v2h-2zM282 570h2v2h-2zM228 571h2v2h-2zM257 561h2v2h-2zM141 566h2v2h-2zM182 563h2v2h-2zM260 523h2v2h-2zM234 538h2v2h-2zM264 492h2v2h-2zM231 543h2v2h-2zM279 539h2v2h-2zM283 508h2v2h-2zM270 492h2v2h-2zM90 533h2v2h-2zM196 529h2v2h-2zM264 523h2v2h-2zM276 499h2v2h-2zM187 559h2v2h-2zM283 543h2v2h-2zM280 547h2v2h-2zM275 527h2v2h-2zM287 521h2v2h-2zM283 519h2v2h-2zM216 548h2v2h-2zM274 498h2v2h-2zM285 519h2v2h-2zM288 528h2v2h-2zM201 575h2v2h-2zM215 525h2v2h-2zM245 544h2v2h-2zM263 505h2v2h-2zM265 528h2v2h-2zM251 521h2v2h-2zM276 529h2v2h-2zM246 544h2v2h-2zM195 569h2v2h-2zM197 551h2v2h-2zM273 550h2v2h-2zM265 503h2v2h-2zM237 562h2v2h-2zM185 557h2v2h-2zM287 529h2v2h-2zM289 537h2v2h-2zM262 528h2v2h-2zM172 565h2v2h-2zM122 559h2v2h-2zM251 489h2v2h-2zM272 507h2v2h-2zM246 557h2v2h-2zM197 539h2v2h-2zM238 469h2v2h-2zM97 534h2v2h-2zM282 511h2v2h-2zM300 521h2v2h-2zM271 516h2v2h-2zM297 557h2v2h-2zM283 549h2v2h-2zM196 575h2v2h-2zM268 505h2v2h-2zM271 547h2v2h-2zM249 533h2v2h-2zM290 539h2v2h-2zM258 526h2v2h-2zM289 512h2v2h-2zM190 586h2v2h-2zM253 507h2v2h-2zM287 487h2v2h-2zM284 552h2v2h-2zM189 556h2v2h-2zM285 549h2v2h-2zM265 568h2v2h-2zM274 494h2v2h-2zM241 492h2v2h-2zM251 541h2v2h-2zM284 522h2v2h-2zM293 551h2v2h-2zM296 551h2v2h-2zM192 545h2v2h-2zM285 555h2v2h-2zM256 502h2v2h-2zM266 526h2v2h-2zM284 560h2v2h-2zM285 559h2v2h-2zM300 559h2v2h-2zM269 514h2v2h-2zM279 550h2v2h-2zM179 514h2v2h-2zM166 486h2v2h-2zM75 550h2v2h-2zM273 502h2v2h-2zM206 567h2v2h-2zM268 541h2v2h-2zM274 539h2v2h-2zM280 545h2v2h-2zM293 561h2v2h-2zM286 531h2v2h-2zM248 543h2v2h-2zM251 557h2v2h-2zM142 534h2v2h-2zM263 546h2v2h-2zM248 507h2v2h-2zM299 546h2v2h-2zM98 560h2v2h-2zM282 526h2v2h-2zM255 569h2v2h-2zM236 505h2v2h-2zM292 538h2v2h-2zM290 532h2v2h-2zM193 513h2v2h-2zM292 562h2v2h-2zM274 526h2v2h-2zM288 558h2v2h-2zM259 569h2v2h-2zM197 576h2v2h-2zM247 582h2v2h-2zM226 529h2v2h-2zM269 547h2v2h-2zM290 533h2v2h-2zM284 592h2v2h-2zM273 552h2v2h-2zM271 529h2v2h-2zM286 536h2v2h-2zM256 517h2v2h-2zM270 517h2v2h-2zM194 581h2v2h-2zM225 553h2v2h-2zM268 510h2v2h-2zM293 548h2v2h-2zM251 535h2v2h-2zM233 493h2v2h-2zM187 547h2v2h-2zM282 575h2v2h-2zM267 541h2v2h-2zM218 551h2v2h-2zM266 513h2v2h-2zM275 508h2v2h-2zM294 570h2v2h-2zM218 557h2v2h-2zM291 552h2v2h-2zM177 551h2v2h-2zM193 547h2v2h-2zM252 514h2v2h-2zM285 592h2v2h-2zM194 496h2v2h-2zM292 557h2v2h-2zM275 530h2v2h-2zM214 388h2v2h-2zM140 543h2v2h-2zM268 489h2v2h-2zM258 552h2v2h-2zM183 536h2v2h-2zM258 521h2v2h-2zM283 547h2v2h-2zM275 557h2v2h-2zM265 554h2v2h-2zM243 537h2v2h-2zM283 549h2v2h-2zM290 593h2v2h-2z"/><path fill="#000000" d="M250 393h2v2h-2zM255 440h2v2h-2zM262 500h2v2h-2zM278 489h2v2h-2zM218 456h2v2h-2z"/><path fill="#ffff00" d="M236 430h2v2h-2zM228 200h2v2h-2zM297 490h2v2h-2zM331 354h2v2h-2zM254 421h2v2h-2zM149 393h2v2h-2zM391 477h2v2h-2zM272 509h2v2h-2zM297 511h2v2h-2zM216 469h2v2h-2zM248 494h2v2h-2zM206 486h2v2h-2zM350 425h2v2h-2zM261 489h2v2h-2zM263 508h2v2h-2zM328 506h2v2h-2zM270 501h2v2h-2zM279 564h2v2h-2zM291 444h2v2h-2zM193 449h2v2h-2zM309 439h2v2h-2zM265 487h2v2h-2zM308 510h2v2h-2zM209 454h2v2h-2zM241 423h2v2h-2zM260 527h2v2h-2zM284 570h2v2h-2zM220 471h2v2h-2zM271 451h2v2h-2zM299 501h2v2h-2zM280 483h2v2h-2zM184 421h2v2h-2zM250 483h2v2h-2zM307 421h2v2h-2zM275 544h2v2h-2zM328 453h2v2h-2zM280 506h2v2h-2zM315 441h2v2h-2zM229 347h2v2h-2zM271 536h2v2h-2zM235 409h2v2h-2zM321 511h2v2h-2zM296 445h2v2h-2zM254 289h2v2h-2zM268 468h2v2h-2zM182 71h2v2h-2zM309 500h2v2h-2zM222 318h2v2h-2zM307 522h2v2h-2zM254 507h2v2h-2zM267 556h2v2h-2zM371 446h2v2h-2zM229 519h2v2h-2zM246 483h2v2h-2zM270 496h2v2h-2zM381 432h2v2h-2zM261 493h2v2h-2zM204 344h2v2h-2zM249 507h2v2h-2zM329 462h2v2h-2zM207 281h2v2h-2zM234 503h2v2h-2zM254 539h2v2h-2zM234 481h2v2h-2zM423 423h2v2h-2zM282 519h2v2h-2zM249 493h2v2h-2zM317 446h2v2h-2zM248 462h2v2h-2zM255 362h2v2h-2zM291 487h2v2h-2zM312 419h2v2h-2zM264 426h2v2h-2zM243 391h2v2h-2zM302 509h2v2h-2zM296 459h2v2h-2zM274 483h2v2h-2zM253 437h2v2h-2zM186 291h2v2h-2zM287 564h2v2h-2zM255 433h2v2h-2zM222 404h2v2h-2zM225 448h2v2h-2zM289 461h2v2h-2zM262 407h2v2h-2zM283 431h2v2h-2zM213 491h2v2h-2zM259 450h2v2h-2zM234 444h2v2h-2zM295 483h2v2h-2zM301 530h2v2h-2zM332 489h2v2h-2zM214 543h2v2h-2zM416 468h2v2h-2zM358 520h2v2h-2zM266 366h2v2h-2zM261 508h2v2h-2zM207 449h2v2h-2zM223 465h2v2h-2zM274 469h2v2h-2zM263 490h2v2h-2zM183 455h2v2h-2zM86 464h2v2h-2zM218 350h2v2h-2zM219 366h2v2h-2zM273 505h2v2h-2zM342 441h2v2h-2zM315 406h2v2h-2zM268 474h2v2h-2zM232 467h2v2h-2zM262 474h2v2h-2zM239 478h2v2h-2zM239 480h2v2h-2zM244 483h2v2h-2zM274 485h2v2h-2zM270 485h2v2h-2zM258 443h2v2h-2zM337 436h2v2h-2zM274 531h2v2h-2zM255 504h2v2h-2zM301 556h2v2h-2zM275 494h2v2h-2zM232 399h2v2h-2zM128 438h2v2h-2zM383 536h2v2h-2zM228 536h2v2h-2zM305 470h2v2h-2zM217 457h2v2h-2zM263 545h2v2h-2zM323 439h2v2h-2zM257 367h2v2h-2zM307 477h2v2h-2zM190 382h2v2h-2z"/><path fill="#ff0000" d="M298 523h2v2h-2zM302 571h2v2h-2zM219 502h2v2h-2zM196 506h2v2h-2zM273 497h2v2h-2zM169 522h2v2h-2zM146 534h2v2h-2zM73 531h2v2h-2zM320 547h2v2h-2zM261 507h2v2h-2zM308 548h2v2h-2zM280 507h2v2h-2zM230 487h2v2h-2zM286 482h2v2h-2zM302 558h2v2h-2zM234 519h2v2h-2zM305 553h2v2h-2zM292 513h2v2h-2zM268 481h2v2h-2zM295 534h2v2h-2zM266 493h2v2h-2zM304 570h2v2h-2zM307 569h2v2h-2zM325 539h2v2h-2zM257 546h2v2h-2zM139 542h2v2h-2zM141 539h2v2h-2zM307 557h2v2h-2zM289 488h2v2h-2zM169 524h2v2h-2zM224 547h2v2h-2zM191 535h2v2h-2zM221 566h2v2h-2zM266 511h2v2h-2zM220 513h2v2h-2zM273 555h2v2h-2zM155 520h2v2h-2zM197 564h2v2h-2zM163 512h2v2h-2zM102 474h2v2h-2zM222 534h2v2h-2zM239 534h2v2h-2zM219 562h2v2h-2zM232 505h2v2h-2zM290 478h2v2h-2zM307 552h2v2h-2zM311 570h2v2h-2zM83 574h2v2h-2zM246 537h2v2h-2zM252 572h2v2h-2zM318 538h2v2h-2zM171 553h2v2h-2zM172 544h2v2h-2zM289 480h2v2h-2zM196 509h2v2h-2zM313 536h2v2h-2zM301 520h2v2h-2zM221 510h2v2h-2zM141 572h2v2h-2zM190 531h2v2h-2zM311 546h2v2h-2zM151 515h2v2h-2zM209 494h2v2h-2zM263 498h2v2h-2zM221 479h2v2h-2zM251 541h2v2h-2zM316 548h2v2h-2zM305 548h2v2h-2zM300 601h2v2h-2zM320 553h2v2h-2zM305 583h2v2h-2zM93 535h2v2h-2zM297 565h2v2h-2zM311 528h2v2h-2zM309 576h2v2h-2zM183 508h2v2h-2zM305 553h2v2h-2zM259 525h2v2h-2zM302 551h2v2h-2zM283 479h2v2h-2zM229 510h2v2h-2zM302 499h2v2h-2zM152 511h2v2h-2zM134 538h2v2h-2zM204 569h2v2h-2zM171 529h2v2h-2zM147 574h2v2h-2zM216 522h2v2h-2zM242 512h2v2h-2zM252 563h2v2h-2zM304 557h2v2h-2zM145 539h2v2h-2zM110 496h2v2h-2z"/><path fill="#00ff00" d="M254 543h2v2h-2zM305 548h2v2h-2zM116 545h2v2h-2zM109 530h2v2h-2zM287 559h2v2h-2zM277 515h2v2h-2zM219 551h2v2h-2zM304 562h2v2h-2zM267 547h2v2h-2zM256 485h2v2h-2zM296 581h2v2h-2zM295 534h2v2h-2zM256 528h2v2h-2zM233 472h2v2h-2zM299 549h2v2h-2zM258 482h2v2h-2zM110 546h2v2h-2zM291 557h2v2h-2zM239 525h2v2h-2zM159 529h2v2h-2zM227 486h2v2h-2zM196 513h2v2h-2zM296 536h2v2h-2zM302 534h2v2h-2zM238 521h2v2h-2zM291 572h2v2h-2zM297 546h2v2h-2zM208 494h2v2h-2zM248 498h2v2h-2zM99 533h2v2h-2zM113 566h2v2h-2zM251 548h2v2h-2zM254 518h2v2h-2zM206 507h2v2h-2zM271 515h2v2h-2zM302 571h2v2h-2zM175 562h2v2h-2zM161 540h2v2h-2zM286 522h2v2h-2zM274 523h2v2h-2zM262 527h2v2h-2zM252 526h2v2h-2zM267 447h2v2h-2zM265 535h2v2h-2zM295 517h2v2h-2zM268 526h2v2h-2zM207 527h2v2h-2zM253 482h2v2h-2zM307 567h2v2h-2zM277 538h2v2h-2zM304 556h2v2h-2zM79 561h2v2h-2zM199 514h2v2h-2zM205 522h2v2h-2zM271 583h2v2h-2zM104 549h2v2h-2zM285 575h2v2h-2zM140 508h2v2h-2zM248 468h2v2h-2zM307 536h2v2h-2zM296 557h2v2h-2zM286 510h2v2h-2zM279 517h2v2h-2zM252 507h2v2h-2zM97 557h2v2h-2zM265 489h2v2h-2zM286 508h2v2h-2zM282 567h2v2h-2zM195 567h2v2h-2zM126 546h2v2h-2zM217 499h2v2h-2zM290 494h2v2h-2zM291 574h2v2h-2zM155 571h2v2h-2zM243 486h2v2h-2zM245 551h2v2h-2zM230 526h2v2h-2zM285 482h2v2h-2zM264 528h2v2h-2zM290 533h2v2h-2zM289 552h2v2h-2zM239 571h2v2h-2zM283 504h2v2h-2zM293 539h2v2h-2zM251 542h2v2h-2zM239 530h2v2h-2zM284 566h2v2h-2zM284 533h2v2h-2zM207 492h2v2h-2zM292 516h2v2h-2zM224 512h2v2h-2zM110 561h2v2h-2zM270 439h2v2h-2zM284 513h2v2h-2zM253 552h2v2h-2zM228 533h2v2h-2zM272 525h2v2h-2zM202 508h2v2h-2zM297 547h2v2h-2zM267 484h2v2h-2zM239 555h2v2h-2zM213 488h2v2h-2zM200 516h2v2h-2zM276 553h2v2h-2zM285 508h2v2h-2zM297 503h2v2h-2zM243 524h2v2h-2zM296 577h2v2h-2zM269 538h2v2h-2zM221 534h2v2h-2zM226 458h2v2h-2zM256 478h2v2h-2zM151 525h2v2h-2zM281 502h2v2h-2zM110 531h2v2h-2zM271 548h2v2h-2zM310 557h2v2h-2zM237 505h2v2h-2zM204 533h2v2h-2zM256 501h2v2h-2zM215 495h2v2h-2zM282 473h2v2h-2zM267 531h2v2h-2zM282 489h2v2h-2zM305 562h2v2h-2z"/><path fill="#0000ff" d="M154 556h2v2h-2zM277 552h2v2h-2zM260 564h2v2h-2zM278 551h2v2h-2zM199 536h2v2h-2zM261 549h2v2h-2zM275 565h2v2h-2zM243 567h2v2h-2zM294 537h2v2h-2zM261 519h2v2h-2zM288 520h2v2h-2zM268 544h2v2h-2zM202 534h2v2h-2zM251 546h2v2h-2zM252 556h2v2h-2zM239 570h2v2h-2zM278 528h2v2h-2zM134 553h2v2h-2zM245 528h2v2h-2zM273 586h2v2h-2zM276 547h2v2h-2zM263 533h2v2h-2zM96 561h2v2h-2zM183 578h2v2h-2zM243 556h2v2h-2zM285 535h2v2h-2zM244 564h2v2h-2zM260 534h2v2h-2zM257 495h2v2h-2zM265 499h2v2h-2zM276 529h2v2h-2zM273 539h2v2h-2zM175 521h2v2h-2zM280 513h2v2h-2zM296 539h2v2h-2zM273 556h2v2h-2zM248 538h2v2h-2zM270 501h2v2h-2zM280 527h2v2h-2zM255 563h2v2h-2zM219 370h2v2h-2zM278 556h2v2h-2zM197 529h2v2h-2zM175 563h2v2h-2zM287 570h2v2h-2zM98 566h2v2h-2zM291 570h2v2h-2zM114 561h2v2h-2zM244 542h2v2h-2zM282 493h2v2h-2zM266 495h2v2h-2zM248 534h2v2h-2zM110 566h2v2h-2zM262 561h2v2h-2zM284 580h2v2h-2zM292 541h2v2h-2zM237 437h2v2h-2zM283 578h2v2h-2zM283 529h2v2h-2zM271 492h2v2h-2zM209 394h2v2h-2zM277 538h2v2h-2zM250 570h2v2h-2zM278 474h2v2h-2zM172 545h2v2h-2zM286 529h2v2h-2zM271 490h2v2h-2zM277 531h2v2h-2zM230 516h2v2h-2zM280 547h2v2h-2zM293 559h2v2h-2zM263 513h2v2h-2zM295 520h2v2h-2zM142 578h2v2h-2zM160 555h2v2h-2zM253 571h2v2h-2zM214 501h2v2h-2zM275 520h2v2h-2zM257 543h2v2h-2zM178 542h2v2h-2zM284 558h2v2h-2zM109 529h2v2h-2zM236 532h2v2h-2zM167 561h2v2h-2zM305 543h2v2h-2zM272 570h2v2h-2zM285 519h2v2h-2zM289 534h2v2h-2zM248 529h2v2h-2zM253 478h2v2h-2zM256 497h2v2h-2zM221 578h2v2h-2zM289 530h2v2h-2zM281 572h2v2h-2zM251 498h2v2h-2zM287 564h2v2h-2zM257 563h2v2h-2zM197 512h2v2h-2zM133 548h2v2h-2zM266 529h2v2h-2zM266 537h2v2h-2zM299 541h2v2h-2zM295 522h2v2h-2zM282 553h2v2h-2zM264 536h2v2h-2zM217 555h2v2h-2zM283 538h2v2h-2zM286 522h2v2h-2zM255 508h2v2h-2zM283 561h2v2h-2zM188 531h2v2h-2zM264 528h2v2h-2zM252 544h2v2h-2zM241 473h2v2h-2zM294 561h2v2h-2zM271 551h2v2h-2zM285 508h2v2h-2zM254 502h2v2h-2zM211 533h2v2h-2zM132 554h2v2h-2zM220 526h2v2h-2zM284 563h2v2h-2zM300 542h2v2h-2zM195 536h2v2h-2zM287 533h2v2h-2zM288 515h2v2h-2zM288 545h2v2h-2zM72 543h2v2h-2zM295 575h2v2h-2zM144 486h2v2h-2zM301 566h2v2h-2zM279 567h2v2h-2zM237 479h2v2h-2zM284 564h2v2h-2zM198 561h2v2h-2zM252 501h2v2h-2zM293 573h2v2h-2zM223 575h2v2h-2zM290 546h2v2h-2zM268 526h2v2h-2zM250 542h2v2h-2zM283 505h2v2h-2zM285 544h2v2h-2zM238 553h2v2h-2zM264 540h2v2h-2zM237 514h2v2h-2zM187 465h2v2h-2zM271 549h2v2h-2zM279 513h2v2h-2zM271 512h2v2h-2zM253 547h2v2h-2zM240 523h2v2h-2zM289 544h2v2h-2zM146 507h2v2h-2zM283 574h2v2h-2zM207 571h2v2h-2zM271 493h2v2h-2zM221 516h2v2h-2zM266 516h2v2h-2zM191 530h2v2h-2zM279 533h2v2h-2zM184 507h2v2h-2zM288 540h2v2h-2zM300 570h2v2h-2zM269 532h2v2h-2zM285 547h2v2h-2zM291 562h2v2h-2zM280 540h2v2h-2zM269 529h2v2h-2zM284 531h2v2h-2zM201 512h2v2h-2zM202 494h2v2h-2zM275 508h2v2h-2zM266 492h2v2h-2zM262 538h2v2h-2zM294 560h2v2h-2zM286 566h2v2h-2zM273 482h2v2h-2zM262 487h2v2h-2zM274 564h2v2h-2zM284 485h2v2h-2zM203 494h2v2h-2zM271 508h2v2h-2zM286 520h2v2h-2zM260 542h2v2h-2zM265 516h2v2h-2zM247 439h2v2h-2zM259 533h2v2h-2zM264 525h2v2h-2zM224 494h2v2h-2zM282 533h2v2h-2zM193 560h2v2h-2zM183 569h2v2h-2zM276 495h2v2h-2zM229 507h2v2h-2zM262 518h2v2h-2zM288 517h2v2h-2zM246 563h2v2h-2zM289 556h2v2h-2zM218 565h2v2h-2zM270 550h2v2h-2zM162 510h2v2h-2zM260 569h2v2h-2zM235 584h2v2h-2zM184 591h2v2h-2zM278 479h2v2h-2zM283 530h2v2h-2zM193 531h2v2h-2zM252 571h2v2h-2zM270 528h2v2h-2zM225 540h2v2h-2zM270 541h2v2h-2zM281 558h2v2h-2zM277 524h2v2h-2zM286 570h2v2h-2zM279 546h2v2h-2zM270 535h2v2h-2zM273 564h2v2h-2zM286 565h2v2h-2zM257 450h2v2h-2zM265 558h2v2h-2zM173 501h2v2h-2zM288 574h2v2h-2zM225 537h2v2h-2zM204 541h2v2h-2zM143 544h2v2h-2zM269 563h2v2h-2zM171 546h2v2h-2zM260 569h2v2h-2zM299 557h2v2h-2zM266 506h2v2h-2zM200 566h2v2h-2zM266 559h2v2h-2zM286 539h2v2h-2zM298 557h2v2h-2zM249 514h2v2h-2zM289 564h2v2h-2zM290 562h2v2h-2zM272 576h2v2h-2zM284 541h2v2h-2zM300 554h2v2h-2zM281 596h2v2h-2zM244 548h2v2h-2zM248 571h2v2h-2zM272 571h2v2h-2zM272 572h2v2h-2zM240 525h2v2h-2zM264 531h2v2h-2zM212 467h2v2h-2zM276 491h2v2h-2zM215 531h2v2h-2zM290 533h2v2h-2zM192 516h2v2h-2zM267 538h2v2h-2zM265 532h2v2h-2zM237 507h2v2h-2zM261 529h2v2h-2zM252 504h2v2h-2zM191 529h2v2h-2zM283 519h2v2h-2zM301 559h2v2h-2zM209 569h2v2h-2zM277 575h2v2h-2z"/><path fill="#000000" d="M233 461h2v2h-2zM237 491h2v2h-2zM218 486h2v2h-2zM109 510h2v2h-2zM170 481h2v2h-2zM146 453h2v2h-2z"/><g font-family="Liberation Sans, sans-serif" font-size="12" fill="#0000ff"><text x="71.5" y="652" text-anchor="middle">19</text><text x="122.5" y="652" text-anchor="middle">20</text><text x="173.5" y="652" text-anchor="middle">21</text><text x="224.5" y="652" text-anchor="middle">22</text><text x="275.5" y="652" text-anchor="middle">23</text><text x="326.5" y="652" text-anchor="middle">24</text><text x="377.5" y="652" text-anchor="middle">25</text><text x="428.5" y="652" text-anchor="middle">26</text><text x="479.5" y="652" text-anchor="middle">27</text><text x="530.5" y="652" text-anchor="middle">28</text><text x="581.5" y="652" text-anchor="middle">29</text><text x="60" y="642.5" text-anchor="end">0</text><text x="60" y="585.5" text-anchor="end">0.5</text><text x="60" y="528.5" text-anchor="end">1</text><text x="60" y="472.5" text-anchor="end">1.5</text><text x="60" y="415.5" text-anchor="end">2</text><text x="60" y="358.5" text-anchor="end">2.5</text><text x="60" y="301.5" text-anchor="end">3</text><text x="60" y="245.5" text-anchor="end">3.5</text><text x="60" y="188.5" text-anchor="end">4</text><text x="60" y="131.5" text-anchor="end">4.5</text><text x="60" y="75.5" text-anchor="end">5</text></g><text x="95.3" y="93.5" font-family="Liberation Sans, sans-serif" font-size="15.5" textLength="65" lengthAdjust="spacing" fill="#0000ff">All CCDs</text><text x="292.9" y="675.6" font-family="Liberation Sans, sans-serif" font-size="22.5" textLength="67" lengthAdjust="spacing" fill="#0000ff" stroke="#fff" stroke-width="0.5">F502N</text><text transform="translate(29.6 256) rotate(-90)" x="0.3" font-family="Liberation Sans, sans-serif" font-size="22" textLength="31.0" lengthAdjust="spacing" fill="#0000ff" stroke="#fff" stroke-width="0.5">Chi</text><text transform="translate(29.6 256) rotate(-90)" x="38.6" font-family="Liberation Sans, sans-serif" font-size="22" textLength="27.6" lengthAdjust="spacing" fill="#0000ff" stroke="#fff" stroke-width="0.5">vs.</text><text transform="translate(29.6 256) rotate(-90)" x="76.2" font-family="Liberation Sans, sans-serif" font-size="22" textLength="108.0" lengthAdjust="spacing" fill="#0000ff" stroke="#fff" stroke-width="0.5">magnitude</text><text x="312" y="46" text-anchor="middle" font-family="Liberation Serif, serif" font-weight="bold" font-size="25" fill="#0000ff">HSTPHOT: Field lmc_u32h04</text></svg></body></html>
